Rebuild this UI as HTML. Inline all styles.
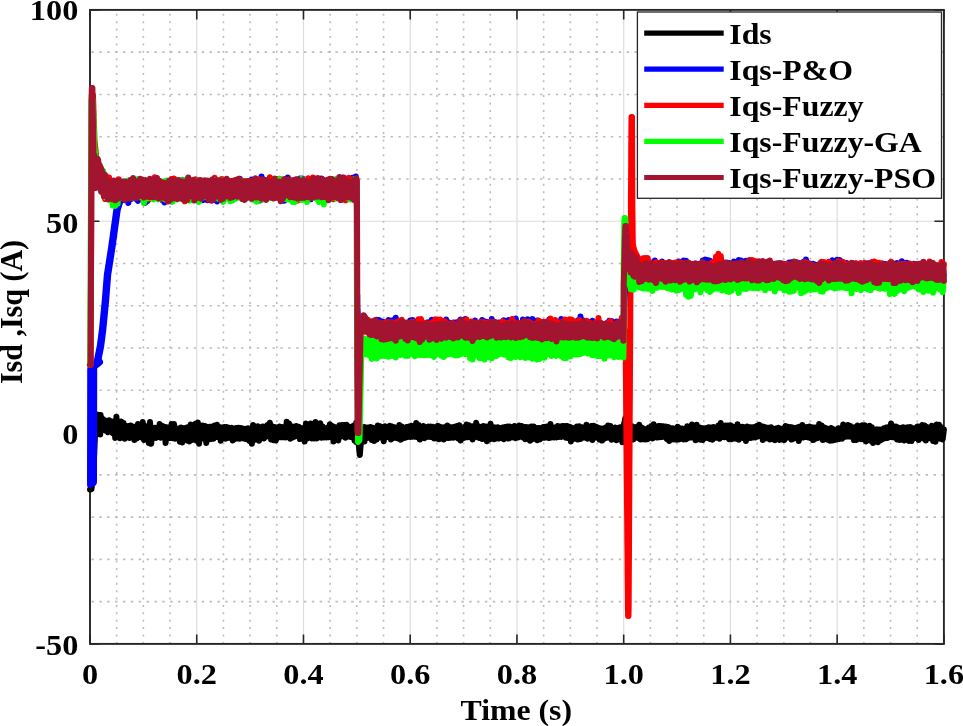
<!DOCTYPE html>
<html><head><meta charset="utf-8"><style>html,body{margin:0;padding:0;background:#fff;overflow:hidden}svg{display:block;filter:blur(0.45px)}</style></head>
<body>
<svg width="963" height="726" viewBox="0 0 963 726">
<rect width="963" height="726" fill="#fff"/>
<path d="M196.74 9.90V643.90M303.48 9.90V643.90M410.21 9.90V643.90M516.95 9.90V643.90M623.69 9.90V643.90M730.42 9.90V643.90M837.16 9.90V643.90M90.00 432.57H943.90M90.00 221.23H943.90" stroke="#dcdcdc" stroke-width="1.15" fill="none"/>
<path d="M116.68 643.90V9.90M143.37 643.90V9.90M170.05 643.90V9.90M223.42 643.90V9.90M250.11 643.90V9.90M276.79 643.90V9.90M330.16 643.90V9.90M356.84 643.90V9.90M383.53 643.90V9.90M436.90 643.90V9.90M463.58 643.90V9.90M490.27 643.90V9.90M543.63 643.90V9.90M570.32 643.90V9.90M597.00 643.90V9.90M650.37 643.90V9.90M677.06 643.90V9.90M703.74 643.90V9.90M757.11 643.90V9.90M783.79 643.90V9.90M810.48 643.90V9.90M863.85 643.90V9.90M890.53 643.90V9.90M917.22 643.90V9.90" stroke="#bcbcbc" stroke-width="1.6" stroke-dasharray="2 5.389" fill="none"/>
<path d="M90.00 601.63H943.90M90.00 559.37H943.90M90.00 517.10H943.90M90.00 474.83H943.90M90.00 390.30H943.90M90.00 348.03H943.90M90.00 305.77H943.90M90.00 263.50H943.90M90.00 178.97H943.90M90.00 136.70H943.90M90.00 94.43H943.90M90.00 52.17H943.90" stroke="#bcbcbc" stroke-width="1.6" stroke-dasharray="2.4 5.4694" stroke-dashoffset="6.3694" fill="none"/>
<rect x="90.00" y="9.90" width="853.90" height="634.00" fill="none" stroke="#262626" stroke-width="1.9"/>
<path d="M90.00 643.90v-9.5M90.00 9.90v9.5M196.74 643.90v-9.5M196.74 9.90v9.5M303.48 643.90v-9.5M303.48 9.90v9.5M410.21 643.90v-9.5M410.21 9.90v9.5M516.95 643.90v-9.5M516.95 9.90v9.5M623.69 643.90v-9.5M623.69 9.90v9.5M730.42 643.90v-9.5M730.42 9.90v9.5M837.16 643.90v-9.5M837.16 9.90v9.5M943.90 643.90v-9.5M943.90 9.90v9.5M90.00 643.90h9.5M943.90 643.90h-9.5M90.00 432.57h9.5M943.90 432.57h-9.5M90.00 221.23h9.5M943.90 221.23h-9.5M90.00 9.90h9.5M943.90 9.90h-9.5" stroke="#262626" stroke-width="1.6" fill="none"/>
<polyline points="90.0,489.6 90.1,489.6 90.3,489.5 90.4,489.4 90.6,489.4 90.7,489.3 90.9,489.3 91.0,489.2 91.2,489.1 91.3,489.1 91.5,489.0 91.6,487.6 91.8,486.2 91.9,484.7 92.1,483.3 92.2,481.9 92.4,480.5 92.5,479.0 92.7,477.6 92.8,476.2 93.0,474.8 93.1,473.3 93.3,471.9 93.4,470.5 93.6,467.7 93.7,464.3 93.9,460.9 94.0,457.4 94.2,454.0 94.3,450.5 94.5,447.1 94.6,443.6 94.8,440.2 94.9,436.7 95.1,433.5 95.2,429.2 95.4,427.2 95.5,421.8 95.7,425.3 95.8,421.6 96.0,426.0 96.1,420.5 96.3,426.5 96.4,420.2 96.6,427.3 96.7,419.3 96.9,428.1 97.0,414.6 97.2,428.6 97.3,415.1 97.5,427.7 97.6,418.2 97.8,431.0 97.9,419.3 98.1,430.9 98.2,420.4 98.4,431.4 98.5,420.1 98.7,430.4 98.8,419.6 99.0,429.3 99.1,418.3 99.3,430.9 99.4,418.5 99.6,430.9 99.7,419.0 99.9,433.5 100.0,417.7 100.2,434.5 100.3,417.4 100.5,430.2 100.6,415.0 100.8,430.7 102.0,418.1 103.2,429.4 104.4,420.1 105.6,430.7 106.8,421.4 108.0,432.2 109.2,420.2 110.4,431.7 111.6,421.5 112.8,433.1 114.0,421.5 115.2,438.1 116.4,416.8 117.6,435.5 118.8,423.4 120.0,438.2 121.2,421.4 122.4,435.3 123.6,422.9 124.8,438.7 126.0,425.8 127.2,435.5 128.4,426.1 129.6,438.0 130.8,425.6 132.0,436.3 133.2,426.8 134.4,439.9 135.6,426.5 136.8,438.6 138.0,424.1 139.2,437.1 140.4,427.5 141.6,437.6 142.8,422.1 144.0,439.9 145.2,426.1 146.4,438.7 147.6,428.0 148.8,443.1 150.0,422.0 151.2,443.8 152.4,428.0 153.6,438.2 154.8,427.7 156.0,437.9 157.2,427.7 158.4,437.1 159.6,424.0 160.8,437.7 162.0,425.8 163.2,436.7 164.4,426.8 165.6,443.1 166.8,427.2 168.0,437.4 169.2,427.6 170.4,438.1 171.6,424.1 172.8,438.2 174.0,424.1 175.2,438.7 176.3,428.2 177.5,438.5 178.7,428.6 179.9,441.7 181.1,427.6 182.3,442.6 183.5,428.3 184.7,438.2 185.9,427.8 187.1,440.4 188.3,427.1 189.5,441.4 190.7,424.6 191.9,440.1 193.1,428.7 194.3,438.6 195.5,423.7 196.7,440.8 197.9,422.5 199.1,443.7 200.3,427.1 201.5,438.8 202.7,425.6 203.9,438.0 205.1,425.9 206.3,443.0 207.5,426.9 208.7,439.4 209.9,426.8 211.1,438.9 212.3,426.6 213.5,438.7 214.7,425.6 215.9,437.1 217.1,424.7 218.3,437.2 219.5,427.0 220.7,440.7 221.9,427.5 223.1,437.9 224.3,427.1 225.5,438.7 226.7,427.1 227.9,438.1 229.1,427.8 230.3,437.8 231.5,427.8 232.7,440.4 233.9,428.5 235.1,438.9 236.3,427.9 237.5,438.6 238.7,427.7 239.9,438.7 241.1,427.9 242.3,438.2 243.5,428.8 244.7,438.8 245.9,428.7 247.1,439.2 248.3,428.2 249.5,441.0 250.7,429.1 251.9,443.8 253.1,425.0 254.3,440.1 255.5,426.4 256.7,439.1 257.9,426.3 259.1,440.8 260.3,427.6 261.5,436.9 262.7,426.4 263.9,438.5 265.1,426.6 266.3,436.7 267.5,425.0 268.7,436.3 269.9,422.7 271.1,439.5 272.3,426.3 273.5,440.2 274.7,426.9 275.9,440.6 277.1,427.5 278.3,437.2 279.5,426.6 280.7,437.2 281.9,426.9 283.1,437.2 284.3,427.0 285.5,437.5 286.7,421.7 287.9,436.3 289.1,423.6 290.3,438.8 291.5,426.2 292.7,437.6 293.9,426.8 295.1,436.4 296.3,425.9 297.5,436.0 298.7,426.7 299.9,439.1 301.1,427.9 302.3,438.5 303.5,428.9 304.7,441.6 305.9,423.5 307.1,438.6 308.3,425.7 309.5,437.5 310.7,423.6 311.9,438.5 313.1,427.7 314.3,438.5 315.5,422.1 316.7,438.5 317.9,428.4 319.1,437.4 320.3,423.3 321.5,437.8 322.7,426.5 323.9,437.4 325.1,428.2 326.3,437.6 327.5,427.5 328.7,437.3 329.9,424.2 331.1,437.3 332.3,426.1 333.5,441.5 334.7,426.9 335.9,437.5 337.1,428.2 338.3,440.4 339.5,425.2 340.7,436.7 341.9,425.1 343.1,436.2 344.3,424.9 345.5,437.8 346.6,424.7 347.8,436.6 349.0,426.6 350.2,437.0 351.4,426.7 352.6,437.4 353.8,425.5 354.2,437.7 354.3,428.2 354.5,440.5 354.6,428.3 354.8,439.3 354.9,427.8 355.0,437.5 355.1,427.5 355.2,437.3 355.4,427.3 355.5,438.0 355.7,427.9 355.8,438.6 356.0,428.5 356.1,442.1 356.2,422.8 356.3,439.0 356.4,428.6 356.6,441.1 356.7,428.1 356.9,438.8 357.0,427.9 357.2,437.3 357.3,425.0 357.4,437.3 357.5,427.7 357.6,439.5 357.8,425.0 357.9,436.3 358.1,437.9 358.2,439.4 358.4,440.9 358.5,442.5 358.6,443.7 358.7,444.0 358.8,445.5 359.0,447.0 359.1,448.6 359.3,450.1 359.4,451.6 359.6,453.2 359.7,454.7 359.8,455.0 359.9,454.6 360.0,452.7 360.2,450.8 360.3,448.9 360.5,447.0 360.6,445.1 360.8,443.2 360.9,441.3 361.0,439.8 361.1,439.4 361.2,437.5 361.4,435.6 361.5,434.0 361.7,433.9 361.8,433.9 362.0,433.8 362.1,433.4 362.2,434.3 362.3,432.8 362.4,434.9 362.6,431.4 362.7,434.9 362.9,430.8 363.0,435.8 363.2,429.9 363.3,436.7 363.4,427.9 363.5,438.2 363.6,429.1 363.8,437.0 363.9,428.4 364.1,440.1 364.2,426.9 364.4,441.6 364.5,427.9 364.6,438.1 364.7,427.4 364.8,438.4 365.8,427.4 367.0,438.2 368.2,427.5 369.4,437.9 370.6,426.9 371.8,439.9 373.0,427.8 374.2,440.9 375.4,428.5 376.6,439.6 377.8,425.5 379.0,437.5 380.2,426.2 381.4,437.7 382.6,427.5 383.8,441.2 385.0,426.2 386.2,437.4 387.4,426.9 388.6,437.1 389.8,425.7 391.0,439.4 392.2,426.6 393.4,437.9 394.6,427.3 395.8,437.9 397.0,428.1 398.2,438.6 399.4,425.0 400.6,439.7 401.8,426.6 403.0,438.4 404.2,427.7 405.4,437.8 406.6,427.1 407.8,436.9 409.0,426.4 410.2,436.9 411.4,425.7 412.6,436.8 413.8,427.3 415.0,436.8 416.2,423.0 417.4,437.3 418.6,424.9 419.8,439.6 421.0,427.3 422.2,437.6 423.4,426.1 424.6,438.2 425.8,427.3 427.0,437.0 428.2,426.6 429.4,436.8 430.6,426.4 431.8,437.1 433.0,426.8 434.2,438.4 435.4,427.6 436.6,438.4 437.8,425.7 439.0,439.3 440.2,426.7 441.4,437.3 442.6,427.4 443.8,439.4 445.0,427.1 446.2,437.8 447.4,425.6 448.6,438.1 449.8,427.0 451.0,437.8 452.2,427.3 453.4,437.8 454.6,426.8 455.8,437.3 457.0,426.1 458.2,438.5 459.4,425.3 460.6,440.4 461.8,427.9 463.0,438.5 464.2,427.0 465.4,437.4 466.6,424.5 467.8,437.2 469.0,425.3 470.2,437.3 471.4,426.5 472.6,439.4 473.8,426.1 475.0,436.3 476.2,422.8 477.4,437.2 478.6,426.3 479.8,438.1 481.0,427.6 482.2,438.9 483.4,425.9 484.6,438.7 485.8,426.5 487.0,441.3 488.2,426.6 489.4,439.4 490.6,423.8 491.8,438.7 493.0,426.9 494.2,439.3 495.4,427.6 496.6,438.3 497.8,427.2 499.0,438.6 500.2,427.9 501.4,437.9 502.6,427.4 503.8,439.2 505.0,426.9 506.2,437.5 507.4,426.4 508.6,438.6 509.8,426.4 511.0,437.4 512.2,427.6 513.4,437.6 514.6,426.1 515.8,438.2 517.0,427.6 518.1,437.4 519.3,425.5 520.5,436.6 521.7,426.1 522.9,437.4 524.1,427.0 525.3,439.2 526.5,426.9 527.7,437.8 528.9,427.3 530.1,440.8 531.3,426.6 532.5,439.3 533.7,426.5 534.9,438.6 536.1,427.9 537.3,440.2 538.5,428.0 539.7,439.4 540.9,427.9 542.1,438.0 543.3,426.9 544.5,437.8 545.7,426.7 546.9,437.4 548.1,426.3 549.3,438.1 550.5,424.0 551.7,437.5 552.9,427.6 554.1,437.6 555.3,427.2 556.5,437.4 557.7,426.0 558.9,437.0 560.1,426.6 561.3,437.0 562.5,425.9 563.7,436.6 564.9,426.1 566.1,437.7 567.3,426.0 568.5,438.1 569.7,426.8 570.9,441.4 572.1,427.7 573.3,439.1 574.5,428.1 575.7,438.8 576.9,426.6 578.1,439.6 579.3,426.3 580.5,438.9 581.7,427.2 582.9,437.8 584.1,427.2 585.3,437.7 586.5,424.8 587.7,438.7 588.9,427.5 590.1,437.7 591.3,425.9 592.5,440.0 593.7,425.8 594.9,437.7 596.1,426.7 597.3,437.7 598.5,427.8 599.7,439.6 600.9,428.4 602.1,440.6 603.3,428.5 604.5,438.7 605.7,427.4 606.9,437.7 608.1,425.4 609.3,437.8 610.5,425.9 611.7,439.8 612.9,427.9 614.1,438.5 615.3,427.5 616.5,440.3 617.7,428.0 618.9,439.3 620.1,427.3 621.0,438.0 621.2,427.5 621.3,438.1 621.3,426.9 621.5,438.5 621.6,427.8 621.8,437.6 621.9,427.3 622.1,438.3 622.2,428.2 622.4,442.2 622.5,428.1 622.5,439.3 622.7,427.3 622.8,442.1 623.0,427.3 623.1,438.8 623.3,426.2 623.4,438.6 623.6,428.0 623.7,439.6 623.7,427.6 623.9,439.3 624.0,423.8 624.2,436.3 624.3,423.8 624.5,435.4 624.6,421.6 624.8,432.4 624.9,419.5 624.9,432.2 625.1,420.5 625.2,432.1 625.4,418.0 625.5,431.4 625.7,419.8 625.8,430.5 626.0,417.5 626.1,429.7 626.1,418.3 626.3,431.8 626.4,419.5 626.6,430.5 626.7,419.4 626.9,430.7 627.0,420.8 627.2,431.8 627.3,421.1 627.3,431.7 627.5,421.3 627.6,432.6 627.8,421.4 627.9,433.9 628.1,422.4 628.2,434.4 628.4,423.2 628.5,436.2 628.5,423.7 628.7,435.1 628.8,425.1 629.0,435.8 629.7,424.7 630.9,439.5 632.1,426.3 633.3,439.5 634.5,427.3 635.7,437.0 636.9,426.8 638.1,437.9 639.3,424.7 640.5,439.4 641.7,427.5 642.9,439.2 644.1,428.8 645.3,439.5 646.5,428.9 647.7,439.2 648.9,427.6 650.1,437.5 651.3,426.0 652.5,438.4 653.7,424.3 654.9,436.8 656.1,426.7 657.3,437.6 658.5,426.1 659.7,437.3 660.9,426.1 662.1,437.0 663.3,426.3 664.5,436.9 665.7,426.4 666.9,438.9 668.1,427.1 669.3,441.0 670.5,428.0 671.7,439.5 672.9,428.2 674.1,439.4 675.3,429.1 676.5,439.8 677.7,426.7 678.9,439.5 680.1,428.3 681.3,438.8 682.5,428.6 683.7,439.4 684.9,428.8 686.1,439.2 687.3,426.3 688.4,438.0 689.6,426.9 690.8,437.5 692.0,424.6 693.2,437.6 694.4,427.3 695.6,440.3 696.8,424.8 698.0,438.9 699.2,427.3 700.4,439.7 701.6,428.0 702.8,439.9 704.0,428.3 705.2,438.1 706.4,427.9 707.6,438.1 708.8,427.2 710.0,439.0 711.2,427.5 712.4,439.8 713.6,427.0 714.8,437.9 716.0,427.6 717.2,437.8 718.4,425.5 719.6,438.8 720.8,423.0 722.0,437.1 723.2,425.9 724.4,437.3 725.6,425.4 726.8,437.3 728.0,425.4 729.2,439.3 730.4,425.2 731.6,439.3 732.8,426.6 734.0,438.4 735.2,427.6 736.4,438.8 737.6,424.2 738.8,439.7 740.0,426.8 741.2,437.3 742.4,426.7 743.6,438.2 744.8,427.3 746.0,441.1 747.2,426.6 748.4,436.8 749.6,427.2 750.8,438.1 752.0,427.2 753.2,437.6 754.4,426.9 755.6,437.5 756.8,426.0 758.0,436.5 759.2,424.8 760.4,436.1 761.6,426.2 762.8,440.0 764.0,426.8 765.2,438.4 766.4,427.5 767.6,438.2 768.8,427.7 770.0,439.4 771.2,427.3 772.4,439.1 773.6,428.9 774.8,440.3 776.0,428.6 777.2,439.1 778.4,427.7 779.6,439.9 780.8,429.0 782.0,439.4 783.2,428.2 784.4,440.1 785.6,425.9 786.8,437.8 788.0,426.7 789.2,437.5 790.4,427.0 791.6,439.6 792.8,427.6 794.0,438.6 795.2,428.0 796.4,438.1 797.6,427.3 798.8,440.9 800.0,426.5 801.2,437.6 802.4,425.0 803.6,437.4 804.8,427.1 806.0,437.1 807.2,426.9 808.4,437.5 809.6,426.6 810.8,438.3 812.0,427.3 813.2,440.1 814.4,427.5 815.6,438.7 816.8,427.2 818.0,438.0 819.2,424.1 820.4,436.8 821.6,425.4 822.8,440.1 824.0,427.3 825.2,438.4 826.4,428.2 827.6,439.7 828.8,429.3 830.0,440.8 831.2,428.0 832.4,440.6 833.6,429.2 834.8,439.9 836.0,429.7 837.2,439.5 838.4,428.3 839.6,438.9 840.8,428.1 842.0,438.8 843.2,424.5 844.4,437.1 845.6,426.0 846.8,436.5 848.0,424.9 849.2,436.6 850.4,425.9 851.6,436.8 852.8,427.7 854.0,440.1 855.2,427.1 856.4,440.0 857.6,425.5 858.7,438.1 859.9,426.6 861.1,439.3 862.3,425.2 863.5,439.2 864.7,425.2 865.9,441.4 867.1,426.7 868.3,438.2 869.5,425.8 870.7,440.7 871.9,427.3 873.1,442.9 874.3,429.4 875.5,440.8 876.7,429.3 877.9,442.3 879.1,429.4 880.3,440.6 881.5,429.5 882.7,439.2 883.9,428.3 885.1,438.3 886.3,427.6 887.5,438.1 888.7,427.1 889.9,437.1 891.1,423.5 892.3,437.3 893.5,426.3 894.7,437.4 895.9,426.6 897.1,439.5 898.3,427.6 899.5,439.9 900.7,428.0 901.9,439.7 903.1,427.3 904.3,440.4 905.5,427.8 906.7,438.9 907.9,427.3 909.1,440.9 910.3,427.0 911.5,441.1 912.7,428.3 913.9,438.6 915.1,428.1 916.3,437.3 917.5,426.4 918.7,440.1 919.9,426.4 921.1,437.9 922.3,425.0 923.5,438.4 924.7,425.6 925.9,440.6 927.1,427.0 928.3,437.8 929.5,427.4 930.7,438.3 931.9,425.8 933.1,441.0 934.3,427.4 935.5,441.8 936.7,424.6 937.9,438.3 939.1,424.7 940.3,438.8 941.5,427.3 942.7,439.4 943.9,429.5" fill="none" stroke="#000000" stroke-width="6.0" stroke-linejoin="round" stroke-linecap="round"/>
<polyline points="90.0,485.0 90.1,484.3 90.3,483.6 90.4,482.9 90.6,482.2 90.7,481.5 90.9,480.8 91.0,480.1 91.2,479.4 91.3,478.7 91.5,478.0 91.6,448.8 91.8,419.4 91.9,390.0 92.1,378.6 92.2,376.5 92.4,374.4 92.5,372.3 92.7,370.2 92.8,368.1 93.0,366.0 93.1,365.8 93.3,365.7 93.4,365.5 93.6,365.3 93.7,365.2 93.9,365.0 94.0,364.8 94.2,364.7 94.3,364.5 94.5,364.3 94.6,364.2 94.8,364.0 94.9,363.8 95.1,363.7 95.2,363.5 95.4,363.3 95.5,363.2 95.7,363.0 95.8,362.8 96.0,362.7 96.1,362.5 96.3,362.3 96.4,362.2 96.6,362.0 96.7,361.8 96.9,361.7 97.0,361.5 97.2,361.3 97.3,361.2 97.5,361.0 97.6,360.3 97.8,359.5 97.9,358.8 98.1,358.0 98.2,357.3 98.4,356.5 98.5,355.8 98.7,355.0 98.8,354.3 99.0,353.5 99.1,352.8 99.3,352.0 99.4,351.3 99.6,350.5 99.7,349.8 99.9,349.0 100.0,348.3 100.2,347.5 100.3,346.8 100.5,346.0 100.6,344.9 100.8,343.8 100.9,342.6 101.1,341.5 101.2,340.3 101.4,339.2 101.5,338.1 101.7,336.9 101.8,335.8 102.0,334.6 102.1,333.5 102.3,332.3 102.4,331.2 102.6,330.1 102.7,328.5 102.9,327.0 103.0,325.4 103.2,323.9 103.3,322.3 103.5,320.8 103.6,319.2 103.8,317.7 103.9,316.1 104.1,314.6 104.2,313.0 104.4,311.5 104.5,309.9 104.7,308.4 104.8,306.8 105.0,305.3 105.1,303.7 105.3,302.2 105.4,300.6 105.6,298.9 105.7,297.0 105.9,295.1 106.0,293.2 106.2,291.4 106.3,289.5 106.5,287.6 106.6,285.7 106.8,283.9 106.9,282.0 107.1,280.1 107.2,278.3 107.4,276.4 107.5,274.7 107.7,273.8 107.8,272.8 108.0,271.8 108.1,270.9 108.3,269.9 108.4,268.9 108.6,268.0 108.7,267.0 108.9,266.0 109.0,265.1 109.2,264.1 109.3,263.2 109.5,262.2 109.6,261.2 109.8,260.3 109.9,259.3 110.1,258.3 110.2,257.4 110.4,256.4 110.5,255.4 110.7,254.5 110.8,253.5 111.0,252.5 111.1,251.6 111.3,250.6 111.4,249.6 111.6,248.7 111.7,247.7 111.9,246.7 112.0,245.7 112.2,244.7 112.3,243.6 112.5,242.5 112.6,241.4 112.8,240.3 112.9,239.3 113.1,238.2 113.2,237.1 113.4,236.0 113.5,234.9 113.7,233.9 113.8,232.8 114.0,231.7 114.1,230.6 114.3,229.5 114.4,228.5 114.6,227.4 114.7,226.3 114.9,225.2 115.0,224.1 115.2,223.1 115.3,222.0 115.5,220.9 115.6,219.8 115.8,218.7 115.9,217.7 116.1,216.6 116.2,215.5 116.4,214.4 116.5,213.4 116.7,212.3 116.8,211.2 117.0,210.1 117.1,209.6 117.3,209.1 117.4,208.7 117.6,208.2 117.7,207.8 117.9,207.3 118.0,206.9 118.2,206.4 118.3,206.0 118.5,205.6 118.6,205.1 118.8,204.7 118.9,204.2 119.1,203.8 119.2,203.3 119.4,202.9 119.5,202.4 119.7,202.0 119.8,201.5 120.0,201.1 120.1,200.6 120.3,200.2 120.4,199.7 120.6,199.3 120.7,198.8 120.9,198.4 121.0,197.8 121.2,197.9 121.3,196.4 121.5,197.6 121.6,194.9 121.8,198.3 121.9,192.7 122.1,198.0 122.2,192.1 122.4,198.3 122.5,191.5 122.7,199.9 122.8,187.6 123.0,198.1 123.1,188.7 123.3,198.4 123.4,187.3 123.6,198.5 123.7,186.3 123.9,197.4 124.0,183.3 124.2,198.1 124.3,184.6 124.5,200.2 124.6,184.3 124.8,196.6 124.9,181.9 125.1,197.0 125.2,182.3 125.4,197.3 125.5,183.9 125.7,198.1 125.8,183.4 126.0,198.5 126.1,182.6 126.3,199.0 126.4,185.0 126.6,199.1 126.7,181.3 126.9,198.4 127.0,184.5 127.2,199.1 127.3,184.8 128.4,203.0 129.6,184.0 130.8,199.2 132.0,183.6 133.2,197.4 134.4,181.9 135.6,198.9 136.8,183.4 138.0,200.9 139.2,184.4 140.4,197.4 141.6,183.0 142.8,198.0 144.0,184.2 145.2,203.1 146.4,185.8 147.6,201.0 148.8,184.6 150.0,197.8 151.2,183.4 152.4,196.3 153.6,182.9 154.8,195.6 156.0,182.0 157.2,197.3 158.4,180.5 159.6,197.3 160.8,182.5 162.0,199.8 163.2,183.8 164.4,202.4 165.6,184.3 166.8,199.8 168.0,185.3 169.2,200.4 170.4,185.1 171.6,201.5 172.8,183.8 174.0,199.2 175.2,180.6 176.3,195.3 177.5,180.6 178.7,196.9 179.9,181.9 181.1,195.9 182.3,180.0 183.5,196.3 184.7,182.4 185.9,198.6 187.1,183.1 188.3,198.0 189.5,183.6 190.7,197.6 191.9,182.9 193.1,196.2 194.3,182.0 195.5,196.1 196.7,181.5 197.9,196.3 199.1,183.3 200.3,199.9 201.5,184.5 202.7,200.2 203.9,182.8 205.1,198.2 206.3,184.0 207.5,200.3 208.7,183.1 209.9,197.6 211.1,182.9 212.3,200.4 213.5,184.5 214.7,199.0 215.9,183.1 217.1,201.4 218.3,182.9 219.5,198.4 220.7,183.3 221.9,198.8 223.1,184.4 224.3,198.6 225.5,182.5 226.7,198.0 227.9,180.2 229.1,196.6 230.3,183.4 231.5,199.6 232.7,182.7 233.9,197.0 235.1,182.5 236.3,197.7 237.5,183.4 238.7,195.7 239.9,178.8 241.1,196.5 242.3,183.2 243.5,197.3 244.7,184.2 245.9,198.4 247.1,184.3 248.3,196.7 249.5,182.6 250.7,194.9 251.9,179.6 253.1,195.3 254.3,182.2 255.5,196.2 256.7,182.1 257.9,196.6 259.1,182.4 260.3,200.4 261.5,176.4 262.7,196.0 263.9,179.6 265.1,192.9 266.3,180.4 267.5,195.3 268.7,181.1 269.9,195.5 271.1,181.8 272.3,196.9 273.5,182.0 274.7,196.5 275.9,181.7 277.1,196.8 278.3,180.5 279.5,195.9 280.7,180.2 281.9,195.2 283.1,181.5 284.3,200.7 285.5,181.9 286.7,197.7 287.9,177.6 289.1,195.8 290.3,180.3 291.5,195.7 292.7,182.2 293.9,197.9 295.1,182.4 296.3,197.7 297.5,181.0 298.7,194.6 299.9,178.4 301.1,194.0 302.3,178.4 303.5,196.4 304.7,179.5 305.9,196.9 307.1,180.4 308.3,194.4 309.5,179.8 310.7,199.2 311.9,179.9 313.1,195.1 314.3,182.6 315.5,196.9 316.7,183.0 317.9,197.4 319.1,181.4 320.3,197.8 321.5,178.5 322.7,198.6 323.9,181.2 325.1,196.3 326.3,182.3 327.5,197.1 328.7,181.1 329.9,195.4 331.1,182.2 332.3,194.5 333.5,180.4 334.7,194.9 335.9,180.6 337.1,197.5 338.3,181.0 339.5,194.8 340.7,178.0 341.9,199.3 343.1,177.4 344.3,196.2 345.5,182.7 346.6,198.1 347.8,182.5 349.0,198.2 350.2,182.2 351.4,199.3 352.6,177.8 353.8,195.2 354.2,178.8 354.3,194.7 354.5,180.7 354.6,195.9 354.8,180.3 354.9,194.1 355.0,179.9 355.1,193.7 355.2,179.7 355.4,193.4 355.5,177.9 355.7,193.1 355.8,176.4 356.0,194.1 356.1,179.9 356.2,194.9 356.3,181.9 356.4,197.2 356.6,182.6 356.7,195.1 356.9,200.7 357.0,306.5 357.2,295.1 357.3,312.1 357.4,308.9 357.5,309.5 357.6,312.5 357.8,315.5 357.9,318.5 358.1,321.5 358.2,324.5 358.4,327.5 358.5,329.9 358.6,329.5 358.7,329.4 358.8,328.8 359.0,328.3 359.1,327.8 359.3,327.2 359.4,326.7 359.6,326.1 359.7,325.6 359.8,325.2 359.9,325.1 360.0,324.5 360.2,324.0 360.3,323.4 360.5,322.9 360.6,322.4 360.8,321.8 360.9,321.3 361.0,321.0 361.1,321.0 361.2,321.1 361.4,321.1 361.5,321.1 361.7,321.2 361.8,321.2 362.0,321.2 362.1,321.5 362.2,320.9 362.3,321.9 362.4,320.6 362.6,322.5 362.7,320.2 362.9,322.9 363.0,319.4 363.2,323.5 363.3,318.4 363.4,323.8 363.5,319.1 363.6,324.5 363.8,318.1 363.9,325.5 364.1,316.8 364.2,326.4 364.4,317.9 364.5,329.0 364.6,317.3 364.7,329.7 364.8,317.9 365.8,328.6 367.0,319.6 368.2,331.8 369.4,321.6 370.6,336.4 371.8,323.9 373.0,333.5 374.2,322.5 375.4,336.3 376.6,319.7 377.8,334.7 379.0,319.9 380.2,334.0 381.4,321.2 382.6,334.3 383.8,321.9 385.0,335.5 386.2,322.4 387.4,332.6 388.6,319.9 389.8,332.2 391.0,321.2 392.2,334.1 393.4,320.1 394.6,332.6 395.8,317.8 397.0,332.7 398.2,321.9 399.4,333.3 400.6,323.0 401.8,333.7 403.0,323.3 404.2,336.7 405.4,323.6 406.6,334.9 407.8,322.9 409.0,332.9 410.2,320.5 411.4,332.3 412.6,319.9 413.8,332.3 415.0,321.6 416.2,333.2 417.4,323.0 418.6,335.7 419.8,324.4 421.0,339.4 422.2,324.2 423.4,335.8 424.6,323.2 425.8,333.3 427.0,322.5 428.2,332.7 429.4,322.1 430.6,333.0 431.8,319.8 433.0,333.8 434.2,323.7 435.4,335.1 436.6,322.2 437.8,332.5 439.0,321.1 440.2,332.6 441.4,320.9 442.6,333.9 443.8,323.3 445.0,335.5 446.2,319.4 447.4,335.8 448.6,322.3 449.8,334.5 451.0,323.3 452.2,334.0 453.4,322.4 454.6,335.8 455.8,322.6 457.0,333.7 458.2,322.1 459.4,335.3 460.6,319.4 461.8,333.0 463.0,320.4 464.2,336.0 465.4,319.0 466.6,334.7 467.8,321.9 469.0,333.8 470.2,322.7 471.4,333.3 472.6,323.1 473.8,333.6 475.0,320.4 476.2,333.8 477.4,322.5 478.6,336.0 479.8,323.3 481.0,334.4 482.2,319.9 483.4,333.0 484.6,321.2 485.8,332.9 487.0,321.9 488.2,333.1 489.4,322.6 490.6,336.3 491.8,318.9 493.0,335.9 494.2,324.0 495.4,338.5 496.6,323.4 497.8,334.0 499.0,322.4 500.2,335.6 501.4,322.5 502.6,332.2 503.8,320.3 505.0,332.9 506.2,321.7 507.4,333.8 508.6,320.1 509.8,333.9 511.0,321.4 512.2,331.1 513.4,320.1 514.6,331.4 515.8,318.6 517.0,332.9 518.1,323.7 519.3,336.7 520.5,323.9 521.7,336.5 522.9,319.4 524.1,332.9 525.3,322.9 526.5,336.6 527.7,319.2 528.9,337.2 530.1,321.9 531.3,333.4 532.5,319.0 533.7,335.8 534.9,322.6 536.1,334.2 537.3,320.4 538.5,335.9 539.7,322.7 540.9,338.7 542.1,323.0 543.3,336.5 544.5,322.4 545.7,335.7 546.9,322.0 548.1,332.4 549.3,319.5 550.5,334.2 551.7,323.8 552.9,335.4 554.1,324.5 555.3,336.9 556.5,323.8 557.7,336.1 558.9,322.2 560.1,333.0 561.3,319.1 562.5,332.8 563.7,321.0 564.9,333.9 566.1,322.8 567.3,334.7 568.5,323.6 569.7,334.9 570.9,324.1 572.1,336.4 573.3,324.2 574.5,334.6 575.7,322.8 576.9,334.2 578.1,320.2 579.3,332.1 580.5,316.5 581.7,332.0 582.9,320.3 584.1,336.1 585.3,321.7 586.5,333.7 587.7,321.8 588.9,334.5 590.1,322.0 591.3,335.9 592.5,320.7 593.7,338.0 594.9,324.8 596.1,335.1 597.3,324.7 598.5,335.3 599.7,323.9 600.9,334.6 602.1,324.1 603.3,335.0 604.5,324.1 605.7,334.4 606.9,323.1 608.1,333.3 609.3,320.8 610.5,334.2 611.7,321.0 612.9,334.6 614.1,323.6 615.3,335.0 616.5,321.4 617.7,334.0 618.9,323.1 620.1,334.2 621.0,323.9 621.2,336.6 621.3,323.7 621.3,334.6 621.5,320.7 621.6,334.9 621.8,318.9 621.9,333.2 622.1,317.6 622.2,332.9 622.4,318.7 622.5,336.0 622.5,319.9 622.7,335.9 622.8,325.6 623.0,337.6 623.1,324.0 623.3,334.4 623.4,322.4 623.6,333.2 623.7,321.9 623.7,331.8 623.9,311.3 624.0,322.8 624.2,299.8 624.3,306.4 624.5,301.2 624.6,298.5 624.8,296.6 624.9,295.0 624.9,294.7 625.1,292.7 625.2,290.8 625.4,288.9 625.5,287.0 625.7,285.1 625.8,283.2 626.0,281.2 626.1,279.7 626.1,279.3 626.3,277.4 626.4,275.5 626.6,273.6 626.7,271.6 626.9,269.7 627.0,268.0 627.2,268.0 627.3,268.0 627.3,268.0 627.5,268.1 627.6,268.1 627.8,268.1 627.9,268.1 628.1,268.3 628.2,267.8 628.4,269.0 628.5,267.1 628.5,269.0 628.7,266.1 628.8,269.4 629.0,265.6 629.1,270.9 629.3,263.5 629.4,270.9 629.6,264.1 629.7,270.7 629.7,264.9 629.9,271.2 630.0,265.3 630.2,272.3 630.3,263.7 630.5,273.3 630.6,262.1 630.8,273.6 630.9,264.0 630.9,273.6 631.1,263.3 631.2,274.0 631.4,259.2 631.5,274.0 631.7,260.7 631.8,274.0 632.0,261.6 632.1,274.1 632.1,261.6 632.3,272.6 632.4,262.0 632.6,274.9 632.7,263.2 632.9,275.3 633.0,264.4 633.2,277.6 633.3,262.9 633.3,276.1 633.5,264.0 633.6,274.9 633.8,262.8 633.9,274.1 634.1,263.8 634.2,274.2 634.4,260.3 634.5,275.3 635.7,262.2 636.9,277.0 638.1,264.8 639.3,275.8 640.5,265.5 641.7,279.3 642.9,266.4 644.1,277.6 645.3,265.1 646.5,276.8 647.7,264.0 648.9,275.1 650.1,263.0 651.3,275.2 652.5,262.6 653.7,276.6 654.9,260.4 656.1,275.6 657.3,264.0 658.5,275.1 659.7,264.9 660.9,277.9 662.1,261.6 663.3,275.8 664.5,265.1 665.7,276.0 666.9,264.9 668.1,275.3 669.3,264.9 670.5,275.4 671.7,264.6 672.9,275.0 674.1,263.3 675.3,275.9 676.5,262.8 677.7,273.3 678.9,261.4 680.1,272.7 681.3,262.6 682.5,273.9 683.7,260.6 684.9,275.5 686.1,260.7 687.3,277.0 688.4,265.0 689.6,275.8 690.8,263.9 692.0,277.5 693.2,264.0 694.4,274.7 695.6,264.5 696.8,276.0 698.0,264.5 699.2,279.1 700.4,263.5 701.6,273.7 702.8,260.5 704.0,273.6 705.2,259.6 706.4,274.3 707.6,260.0 708.8,273.3 710.0,260.7 711.2,273.5 712.4,262.4 713.6,275.1 714.8,263.8 716.0,274.9 717.2,261.7 718.4,275.8 719.6,262.6 720.8,276.7 722.0,264.7 723.2,274.2 724.4,263.1 725.6,274.6 726.8,262.4 728.0,274.7 729.2,263.1 730.4,276.9 731.6,264.7 732.8,276.1 734.0,261.5 735.2,276.3 736.4,262.7 737.6,274.4 738.8,260.1 740.0,275.2 741.2,260.6 742.4,274.7 743.6,263.0 744.8,275.1 746.0,260.7 747.2,274.9 748.4,263.9 749.6,274.4 750.8,260.8 752.0,277.0 753.2,264.1 754.4,275.7 755.6,264.8 756.8,275.7 758.0,264.5 759.2,275.5 760.4,264.6 761.6,279.6 762.8,265.8 764.0,277.3 765.2,266.6 766.4,277.6 767.6,266.9 768.8,279.1 770.0,265.1 771.2,277.6 772.4,266.7 773.6,277.1 774.8,265.3 776.0,275.6 777.2,263.9 778.4,275.3 779.6,263.3 780.8,275.8 782.0,265.1 783.2,275.1 784.4,264.3 785.6,276.8 786.8,264.1 788.0,278.1 789.2,262.4 790.4,274.9 791.6,262.2 792.8,278.2 794.0,262.6 795.2,274.1 796.4,262.9 797.6,274.0 798.8,263.0 800.0,275.7 801.2,263.7 802.4,278.0 803.6,261.7 804.8,274.2 806.0,259.4 807.2,275.0 808.4,262.9 809.6,274.1 810.8,263.7 812.0,275.1 813.2,263.7 814.4,275.6 815.6,264.7 816.8,276.1 818.0,265.5 819.2,278.3 820.4,263.0 821.6,277.5 822.8,266.1 824.0,276.6 825.2,266.0 826.4,276.8 827.6,264.1 828.8,276.8 830.0,261.8 831.2,274.9 832.4,260.3 833.6,275.0 834.8,263.2 836.0,274.5 837.2,259.8 838.4,273.8 839.6,260.0 840.8,275.7 842.0,261.4 843.2,276.1 844.4,264.6 845.6,276.7 846.8,263.1 848.0,274.9 849.2,264.0 850.4,274.8 851.6,263.9 852.8,275.1 854.0,264.3 855.2,275.2 856.4,263.4 857.6,276.0 858.7,265.5 859.9,277.3 861.1,263.2 862.3,276.1 863.5,265.2 864.7,277.7 865.9,264.1 867.1,274.4 868.3,263.2 869.5,273.4 870.7,263.0 871.9,278.1 873.1,264.2 874.3,275.1 875.5,262.9 876.7,275.9 877.9,264.3 879.1,276.0 880.3,264.4 881.5,274.8 882.7,263.5 883.9,274.8 885.1,263.9 886.3,278.6 887.5,264.5 888.7,275.6 889.9,264.2 891.1,275.1 892.3,263.0 893.5,275.4 894.7,265.7 895.9,276.7 897.1,263.0 898.3,277.6 899.5,264.2 900.7,276.0 901.9,261.3 903.1,276.0 904.3,263.7 905.5,275.5 906.7,262.8 907.9,275.1 909.1,263.4 910.3,275.3 911.5,265.1 912.7,275.7 913.9,263.7 915.1,276.4 916.3,265.7 917.5,276.2 918.7,264.3 919.9,277.4 921.1,266.8 922.3,277.7 923.5,263.8 924.7,277.0 925.9,265.0 927.1,275.9 928.3,263.4 929.5,276.0 930.7,265.4 931.9,277.9 933.1,265.9 934.3,276.9 935.5,266.2 936.7,276.8 937.9,266.6 939.1,277.9 940.3,266.5 941.5,276.3 942.7,265.2 943.9,276.5" fill="none" stroke="#0000ff" stroke-width="6.0" stroke-linejoin="round" stroke-linecap="round"/>
<path d="M92 482L92.2 369" stroke="#0000ff" stroke-width="10" stroke-linecap="round"/>
<path d="M94 366L99 362" stroke="#0000ff" stroke-width="8" stroke-linecap="round"/>
<polyline points="97.5,361 100.5,346 102.6,330 105.5,300 107.5,275 112,246 117,210 120,200" fill="none" stroke="#0000ff" stroke-width="7.4" stroke-linejoin="round" stroke-linecap="round"/>
<polyline points="90.0,364.9 90.1,365.0 90.3,365.0 90.4,365.0 90.6,365.0 90.7,352.8 90.9,316.0 91.0,279.2 91.2,242.4 91.3,205.6 91.5,168.9 91.6,132.1 91.8,95.3 91.9,95.0 92.1,95.0 92.2,95.0 92.4,95.0 92.5,95.0 92.7,95.0 92.8,95.0 93.0,95.0 93.1,99.4 93.3,103.9 93.4,108.4 93.6,112.9 93.7,117.4 93.9,121.9 94.0,126.4 94.2,130.9 94.3,135.4 94.5,139.9 94.6,141.5 94.8,143.0 94.9,144.5 95.1,146.0 95.2,147.5 95.4,149.0 95.5,150.5 95.7,152.0 95.8,153.5 96.0,155.0 96.1,156.5 96.3,158.0 96.4,159.5 96.6,160.3 96.7,160.8 96.9,161.4 97.0,161.9 97.2,162.4 97.3,162.9 97.5,163.4 97.6,163.9 97.8,164.4 97.9,165.0 98.1,165.5 98.2,166.0 98.4,166.5 98.5,167.0 98.7,167.5 98.8,168.0 99.0,168.6 99.1,169.1 99.3,169.6 99.4,170.1 99.6,170.6 99.7,171.1 99.9,171.6 100.0,172.0 100.2,173.0 100.3,172.2 100.5,174.6 100.6,172.3 100.8,176.3 100.9,172.6 101.1,178.2 101.2,173.4 101.4,180.9 101.5,173.0 101.7,183.9 101.8,175.1 102.0,185.5 102.1,176.0 102.3,186.6 102.4,175.9 102.6,188.6 102.7,177.1 102.9,189.1 103.0,176.2 103.2,192.1 103.3,176.6 103.5,191.6 103.6,176.6 103.8,192.4 103.9,178.3 104.1,194.0 104.2,180.9 104.4,194.8 104.5,178.9 104.7,197.7 104.8,180.7 105.0,198.8 105.1,179.8 105.3,199.1 105.4,177.8 105.6,196.4 105.7,180.9 105.9,196.6 106.8,176.9 108.0,194.7 109.2,177.5 110.4,197.4 111.6,182.1 112.8,195.6 114.0,181.0 115.2,195.0 116.4,181.1 117.6,196.2 118.8,179.2 120.0,196.6 121.2,182.8 122.4,197.2 123.6,183.5 124.8,197.8 126.0,183.1 127.2,195.3 128.4,181.4 129.6,194.4 130.8,180.7 132.0,195.6 133.2,182.2 134.4,196.2 135.6,182.7 136.8,196.3 138.0,180.4 139.2,197.1 140.4,180.4 141.6,198.2 142.8,183.8 144.0,197.4 145.2,181.6 146.4,199.2 147.6,181.8 148.8,199.5 150.0,182.3 151.2,196.1 152.4,182.6 153.6,197.9 154.8,177.3 156.0,195.6 157.2,181.4 158.4,196.1 159.6,182.8 160.8,197.2 162.0,184.2 163.2,199.3 164.4,183.2 165.6,197.9 166.8,183.1 168.0,199.5 169.2,183.0 170.4,196.3 171.6,178.9 172.8,194.9 174.0,178.5 175.2,198.3 176.3,182.5 177.5,198.5 178.7,180.2 179.9,197.5 181.1,182.4 182.3,199.0 183.5,182.1 184.7,201.3 185.9,180.9 187.1,196.5 188.3,179.9 189.5,196.3 190.7,182.1 191.9,197.1 193.1,182.0 194.3,195.4 195.5,179.3 196.7,196.6 197.9,180.5 199.1,194.0 200.3,180.5 201.5,195.5 202.7,181.9 203.9,196.5 205.1,183.2 206.3,197.4 207.5,182.6 208.7,198.4 209.9,182.2 211.1,195.6 212.3,181.4 213.5,196.0 214.7,177.8 215.9,195.3 217.1,181.1 218.3,195.2 219.5,182.6 220.7,196.7 221.9,179.1 223.1,195.9 224.3,181.1 225.5,196.0 226.7,182.0 227.9,198.5 229.1,181.0 230.3,195.0 231.5,181.0 232.7,195.9 233.9,181.1 235.1,196.5 236.3,180.0 237.5,195.2 238.7,180.9 239.9,195.5 241.1,180.3 242.3,196.1 243.5,182.4 244.7,195.5 245.9,180.9 247.1,196.4 248.3,181.4 249.5,195.3 250.7,180.9 251.9,196.2 253.1,182.5 254.3,195.5 255.5,182.1 256.7,196.2 257.9,179.5 259.1,195.9 260.3,179.5 261.5,199.5 262.7,181.5 263.9,195.3 265.1,181.8 266.3,195.5 267.5,180.4 268.7,197.2 269.9,177.2 271.1,196.3 272.3,183.1 273.5,197.0 274.7,183.0 275.9,197.0 277.1,179.1 278.3,195.7 279.5,178.8 280.7,197.5 281.9,184.0 283.1,198.1 284.3,181.6 285.5,198.7 286.7,183.5 287.9,195.9 289.1,180.9 290.3,194.7 291.5,181.1 292.7,195.5 293.9,181.7 295.1,197.5 296.3,179.2 297.5,200.8 298.7,182.7 299.9,196.3 301.1,183.3 302.3,196.8 303.5,180.9 304.7,198.5 305.9,182.1 307.1,196.0 308.3,178.2 309.5,196.9 310.7,180.6 311.9,198.0 313.1,177.4 314.3,196.8 315.5,181.7 316.7,197.6 317.9,181.1 319.1,195.3 320.3,181.6 321.5,195.4 322.7,179.3 323.9,197.2 325.1,181.6 326.3,196.1 327.5,182.3 328.7,197.2 329.9,182.6 331.1,198.2 332.3,183.1 333.5,199.2 334.7,182.7 335.9,197.3 337.1,183.3 338.3,197.0 339.5,183.0 340.7,197.8 341.9,182.2 343.1,199.4 344.3,181.7 345.5,200.3 346.6,180.3 347.8,196.0 349.0,177.7 350.2,194.9 351.4,182.0 352.6,196.7 353.8,180.4 354.2,197.0 354.3,180.8 354.5,196.3 354.6,181.8 354.8,194.9 354.9,181.2 355.0,199.6 355.1,180.3 355.2,197.2 355.4,182.4 355.5,195.7 355.7,180.2 355.8,197.4 356.0,182.0 356.1,195.5 356.2,178.4 356.3,194.9 356.4,180.1 356.6,195.1 356.7,181.1 356.9,210.4 357.0,303.1 357.2,322.6 357.3,342.1 357.4,357.6 357.5,361.5 357.6,381.0 357.8,400.5 357.9,420.0 358.1,427.1 358.2,421.0 358.4,414.9 358.5,408.9 358.6,404.0 358.7,402.8 358.8,396.8 359.0,390.7 359.1,384.7 359.3,378.6 359.4,372.6 359.6,366.5 359.7,360.5 359.8,355.6 359.9,354.4 360.0,348.3 360.2,342.3 360.3,336.2 360.5,330.2 360.6,325.0 360.8,325.0 360.9,325.0 361.0,325.0 361.1,325.0 361.2,325.0 361.4,325.0 361.5,325.0 361.7,325.0 361.8,325.0 362.0,325.0 362.1,324.8 362.2,325.3 362.3,324.4 362.4,325.9 362.6,323.4 362.7,326.2 362.9,322.6 363.0,326.6 363.2,322.3 363.3,327.7 363.4,323.1 363.5,328.4 363.6,323.3 363.8,329.9 363.9,322.2 364.1,331.0 364.2,321.0 364.4,330.3 364.5,317.7 364.6,329.5 364.7,320.6 364.8,331.8 365.8,319.9 367.0,331.8 368.2,320.0 369.4,332.3 370.6,322.3 371.8,335.2 373.0,322.6 374.2,337.7 375.4,323.7 376.6,336.4 377.8,323.6 379.0,334.6 380.2,322.4 381.4,333.4 382.6,323.1 383.8,333.3 385.0,322.6 386.2,333.7 387.4,322.0 388.6,333.8 389.8,323.0 391.0,333.8 392.2,322.2 393.4,334.2 394.6,323.0 395.8,334.9 397.0,321.9 398.2,334.5 399.4,320.8 400.6,331.8 401.8,319.7 403.0,333.1 404.2,322.8 405.4,334.6 406.6,323.6 407.8,334.8 409.0,323.7 410.2,336.1 411.4,322.0 412.6,333.9 413.8,322.1 415.0,333.2 416.2,322.6 417.4,333.4 418.6,319.3 419.8,333.5 421.0,319.1 422.2,333.3 423.4,322.5 424.6,333.9 425.8,323.1 427.0,335.2 428.2,323.4 429.4,333.5 430.6,323.3 431.8,333.4 433.0,321.9 434.2,333.2 435.4,319.2 436.6,331.4 437.8,319.5 439.0,329.9 440.2,319.5 441.4,330.5 442.6,321.3 443.8,333.1 445.0,321.3 446.2,336.0 447.4,323.2 448.6,334.7 449.8,323.9 451.0,334.6 452.2,323.0 453.4,334.8 454.6,324.5 455.8,337.6 457.0,324.2 458.2,334.9 459.4,324.4 460.6,334.6 461.8,323.1 463.0,334.0 464.2,322.7 465.4,334.3 466.6,319.6 467.8,334.4 469.0,321.8 470.2,333.2 471.4,321.4 472.6,336.5 473.8,322.4 475.0,337.0 476.2,322.5 477.4,335.2 478.6,322.8 479.8,333.3 481.0,321.9 482.2,333.4 483.4,321.9 484.6,332.7 485.8,322.8 487.0,333.4 488.2,322.7 489.4,333.5 490.6,321.8 491.8,337.4 493.0,322.2 494.2,335.4 495.4,322.5 496.6,334.9 497.8,324.2 499.0,334.6 500.2,323.1 501.4,333.4 502.6,321.3 503.8,336.2 505.0,322.7 506.2,336.1 507.4,323.1 508.6,333.8 509.8,322.3 511.0,333.2 512.2,319.0 513.4,333.2 514.6,322.3 515.8,334.6 517.0,323.4 518.1,334.9 519.3,323.1 520.5,334.2 521.7,323.7 522.9,334.7 524.1,323.7 525.3,333.7 526.5,321.7 527.7,336.3 528.9,321.8 530.1,336.0 531.3,323.3 532.5,335.4 533.7,324.4 534.9,334.8 536.1,323.7 537.3,333.8 538.5,320.6 539.7,336.7 540.9,322.2 542.1,332.2 543.3,321.7 544.5,333.7 545.7,321.7 546.9,336.5 548.1,322.9 549.3,333.8 550.5,318.6 551.7,332.1 552.9,320.2 554.1,331.8 555.3,320.0 556.5,332.6 557.7,322.4 558.9,333.3 560.1,322.3 561.3,333.2 562.5,321.9 563.7,333.2 564.9,319.6 566.1,333.8 567.3,321.4 568.5,333.8 569.7,319.3 570.9,336.6 572.1,319.8 573.3,332.0 574.5,321.4 575.7,332.8 576.9,322.4 578.1,335.7 579.3,320.1 580.5,333.6 581.7,322.0 582.9,333.4 584.1,321.5 585.3,333.9 586.5,320.8 587.7,339.2 588.9,322.2 590.1,337.0 591.3,323.4 592.5,334.7 593.7,323.5 594.9,335.1 596.1,322.0 597.3,333.9 598.5,317.9 599.7,332.4 600.9,322.9 602.1,336.3 603.3,324.3 604.5,334.9 605.7,323.8 606.9,334.0 608.1,322.8 609.3,336.5 610.5,321.1 611.7,334.6 612.9,323.9 614.1,335.5 615.3,325.5 616.5,338.6 617.7,323.8 618.9,335.0 620.1,324.5 621.0,336.5 621.2,320.7 621.3,334.3 621.3,322.7 621.5,336.6 621.6,318.6 621.8,334.2 621.9,320.3 622.1,334.2 622.2,323.3 622.4,334.9 622.5,323.4 622.5,334.1 622.7,321.6 622.8,333.2 623.0,320.2 623.1,333.1 623.3,321.8 623.4,335.5 623.6,320.3 623.7,334.0 623.7,328.6 623.9,328.9 624.0,329.2 624.2,329.5 624.3,329.8 624.5,330.1 624.6,330.3 624.8,330.6 624.9,330.8 624.9,330.9 625.1,331.2 625.2,331.5 625.4,331.7 625.5,333.9 625.7,350.9 625.8,367.9 626.0,385.0 626.1,398.6 626.1,402.0 626.3,419.0 626.4,436.0 626.6,453.1 626.7,470.1 626.9,487.1 627.0,504.2 627.2,521.2 627.3,534.8 627.3,538.2 627.5,555.3 627.6,572.3 627.8,589.3 627.9,606.3 628.1,616.0 628.2,616.0 628.4,616.0 628.5,616.0 628.5,616.0 628.7,604.5 628.8,577.8 629.0,551.1 629.1,524.3 629.3,497.6 629.4,470.9 629.6,444.2 629.7,422.8 629.7,417.5 629.9,390.8 630.0,364.0 630.2,337.3 630.3,310.6 630.5,283.9 630.6,257.2 630.8,230.5 630.9,209.1 630.9,203.7 631.1,177.0 631.2,150.3 631.4,123.6 631.5,117.0 631.7,117.0 631.8,117.0 632.0,117.0 632.1,139.8 632.1,148.1 632.3,189.6 632.4,209.9 632.6,223.1 632.7,236.3 632.9,244.3 633.0,244.9 633.2,245.5 633.3,246.0 633.3,246.1 633.5,246.7 633.6,247.3 633.8,248.0 633.9,248.6 634.1,249.2 634.2,249.8 634.4,250.4 634.5,250.9 634.5,251.0 634.7,251.3 634.8,251.6 635.0,251.9 635.1,252.2 635.3,252.5 635.4,252.8 635.6,253.1 635.7,253.4 635.7,253.4 635.9,253.7 636.0,254.0 636.2,254.3 636.3,254.6 636.5,254.9 636.6,255.2 636.8,255.5 636.9,255.8 636.9,255.8 637.1,256.1 637.2,256.4 637.4,256.7 637.5,257.0 637.7,257.3 637.8,257.6 638.0,257.9 638.1,258.2 638.1,258.2 638.3,258.5 638.4,258.8 638.6,259.1 638.7,259.4 638.9,259.7 639.0,260.0 639.2,260.3 639.3,260.6 639.3,260.6 639.5,260.9 639.6,261.2 639.8,261.5 639.9,261.8 640.1,261.9 640.2,262.5 640.4,261.5 640.5,263.3 640.5,261.5 640.7,264.2 640.8,261.2 641.0,265.0 641.1,261.8 641.3,265.7 641.4,260.9 641.6,266.2 641.7,260.6 641.7,266.4 641.9,260.6 642.0,267.4 642.2,260.4 642.3,268.0 642.5,259.0 642.6,268.7 642.8,259.4 642.9,269.2 642.9,259.9 643.1,271.2 643.2,258.2 643.4,271.6 643.5,261.0 643.7,271.8 643.8,259.7 644.0,270.9 644.1,260.5 644.1,272.6 644.3,260.9 644.4,274.1 644.6,262.1 644.7,275.3 644.9,260.9 645.0,272.6 645.2,258.0 645.3,272.0 645.3,259.1 645.5,271.6 645.6,259.9 645.8,271.7 645.9,259.7 646.1,271.1 646.2,260.9 646.4,271.8 646.5,259.8 646.5,272.9 646.7,262.3 646.8,272.4 647.0,260.4 647.1,272.1 647.3,257.9 647.4,271.4 647.6,260.7 647.7,271.0 647.7,258.3 647.9,275.3 648.0,262.8 648.2,276.7 648.3,263.2 648.5,276.1 648.6,262.9 648.8,277.4 648.9,263.1 648.9,278.1 649.1,263.2 649.2,275.0 649.4,262.4 649.5,273.6 649.7,263.0 649.8,274.6 650.0,262.2 650.1,275.8 650.1,265.4 650.3,276.8 651.3,265.2 652.5,277.6 653.7,264.7 654.9,275.4 656.1,262.3 657.3,273.8 658.5,263.0 659.7,273.3 660.9,262.6 662.1,274.3 663.3,263.3 664.5,274.9 665.7,263.1 666.9,278.3 668.1,263.1 669.3,275.4 670.5,264.0 671.7,275.4 672.9,264.3 674.1,278.6 675.3,262.5 676.5,277.1 677.7,262.6 678.9,274.9 680.1,262.2 681.3,274.3 682.5,263.0 683.7,274.7 684.9,264.5 686.1,276.5 687.3,264.8 688.4,277.7 689.6,263.2 690.8,276.7 692.0,264.9 693.2,276.9 694.4,265.8 695.6,278.2 696.8,265.8 698.0,277.7 699.2,266.5 700.4,279.4 701.6,266.2 702.8,277.9 704.0,265.8 705.2,277.1 706.4,263.8 707.6,276.9 708.8,265.8 710.0,277.4 711.2,262.9 712.4,273.7 713.6,261.9 714.8,271.1 716.0,256.7 717.2,267.7 718.4,253.8 719.6,267.4 720.8,256.1 722.0,271.9 723.2,263.0 724.4,277.5 725.6,263.8 726.8,275.3 728.0,263.6 729.2,275.0 730.4,264.1 731.6,277.3 732.8,264.1 734.0,275.1 735.2,264.0 736.4,275.0 737.6,265.2 738.8,278.1 740.0,266.4 741.2,277.9 742.4,263.1 743.6,277.7 744.8,266.2 746.0,276.8 747.2,265.8 748.4,276.4 749.6,260.1 750.8,275.1 752.0,259.9 753.2,274.7 754.4,260.8 755.6,275.3 756.8,264.0 758.0,276.1 759.2,261.3 760.4,274.5 761.6,265.3 762.8,279.7 764.0,266.9 765.2,278.4 766.4,267.6 767.6,278.2 768.8,267.8 770.0,278.3 771.2,266.9 772.4,278.8 773.6,267.0 774.8,277.6 776.0,266.2 777.2,277.0 778.4,265.6 779.6,279.2 780.8,266.8 782.0,278.8 783.2,266.5 784.4,279.9 785.6,264.3 786.8,276.8 788.0,264.1 789.2,276.8 790.4,266.5 791.6,276.5 792.8,265.2 794.0,276.9 795.2,262.6 796.4,275.8 797.6,264.6 798.8,275.3 800.0,264.5 801.2,274.1 802.4,263.0 803.6,273.6 804.8,262.1 806.0,273.1 807.2,262.8 808.4,275.4 809.6,264.5 810.8,276.7 812.0,264.5 813.2,277.2 814.4,265.9 815.6,278.9 816.8,265.8 818.0,276.2 819.2,264.6 820.4,275.9 821.6,261.8 822.8,275.4 824.0,262.0 825.2,276.3 826.4,264.1 827.6,276.3 828.8,261.8 830.0,275.5 831.2,264.1 832.4,274.4 833.6,264.1 834.8,275.6 836.0,265.2 837.2,280.0 838.4,261.1 839.6,275.7 840.8,262.8 842.0,274.7 843.2,262.0 844.4,274.9 845.6,263.9 846.8,274.8 848.0,264.3 849.2,274.9 850.4,264.2 851.6,276.6 852.8,263.1 854.0,277.2 855.2,263.3 856.4,276.1 857.6,263.7 858.7,277.3 859.9,263.6 861.1,275.5 862.3,264.3 863.5,277.1 864.7,262.8 865.9,275.5 867.1,264.4 868.3,275.5 869.5,264.2 870.7,278.7 871.9,261.9 873.1,275.2 874.3,261.4 875.5,273.5 876.7,262.6 877.9,273.8 879.1,262.7 880.3,277.2 881.5,263.4 882.7,275.2 883.9,265.2 885.1,276.7 886.3,265.1 887.5,275.2 888.7,264.2 889.9,274.7 891.1,261.8 892.3,276.6 893.5,264.2 894.7,276.4 895.9,266.2 897.1,277.9 898.3,267.2 899.5,277.1 900.7,265.3 901.9,277.3 903.1,263.7 904.3,274.5 905.5,263.9 906.7,275.0 907.9,264.4 909.1,274.7 910.3,263.7 911.5,276.9 912.7,264.3 913.9,275.3 915.1,264.7 916.3,280.1 917.5,265.3 918.7,276.6 919.9,266.6 921.1,276.9 922.3,263.2 923.5,276.1 924.7,264.8 925.9,277.0 927.1,263.8 928.3,278.4 929.5,261.5 930.7,274.4 931.9,262.8 933.1,280.1 934.3,265.5 935.5,277.0 936.7,265.0 937.9,277.4 939.1,265.2 940.3,276.7 941.5,261.9 942.7,279.1 943.9,264.2" fill="none" stroke="#ff0000" stroke-width="6.0" stroke-linejoin="round" stroke-linecap="round"/>
<polyline points="90.0,364.9 90.1,365.0 90.3,343.0 90.4,309.8 90.6,276.7 90.7,243.6 90.9,210.5 91.0,177.4 91.2,144.3 91.3,111.2 91.5,100.0 91.6,100.0 91.8,100.0 91.9,100.0 92.1,100.0 92.2,100.0 92.4,100.0 92.5,100.0 92.7,100.0 92.8,101.4 93.0,105.8 93.1,110.2 93.3,114.6 93.4,119.1 93.6,123.5 93.7,127.9 93.9,132.3 94.0,136.7 94.2,141.1 94.3,145.5 94.5,149.9 94.6,150.8 94.8,151.5 94.9,152.3 95.1,153.1 95.2,153.9 95.4,154.7 95.5,155.4 95.7,156.2 95.8,157.0 96.0,157.8 96.1,158.6 96.3,159.3 96.4,160.1 96.6,160.9 96.7,161.7 96.9,162.5 97.0,163.2 97.2,163.7 97.3,164.3 97.5,164.9 97.6,165.4 97.8,166.0 97.9,166.5 98.1,167.4 98.2,167.2 98.4,169.5 98.5,167.7 98.7,171.6 98.8,168.7 99.0,173.4 99.1,167.1 99.3,174.0 99.4,167.1 99.6,176.9 99.7,165.9 99.9,178.4 100.0,165.5 100.2,178.3 100.3,167.3 100.5,184.4 100.6,168.4 100.8,185.6 100.9,170.3 101.1,185.5 101.2,170.4 101.4,185.7 101.5,172.1 101.7,189.4 101.8,173.7 102.0,188.9 102.1,172.9 102.3,187.9 102.4,172.1 102.6,188.2 102.7,173.2 102.9,189.3 103.0,174.4 103.2,191.3 103.3,171.3 103.5,189.5 103.6,175.8 103.8,190.7 103.9,177.7 104.1,191.9 104.2,178.0 104.4,193.4 104.5,177.2 104.7,193.2 104.8,177.3 105.0,193.6 105.1,176.3 105.3,195.1 105.4,179.3 105.6,196.6 105.7,180.1 105.9,197.4 106.8,182.4 108.0,197.4 109.2,183.5 110.4,200.5 111.6,183.2 112.8,205.6 114.0,183.9 115.2,205.9 116.4,186.3 117.6,203.8 118.8,183.5 120.0,198.4 121.2,182.7 122.4,197.8 123.6,181.8 124.8,195.8 126.0,181.2 127.2,194.2 128.4,180.6 129.6,195.3 130.8,181.9 132.0,197.5 133.2,182.0 134.4,197.5 135.6,181.9 136.8,196.2 138.0,179.1 139.2,195.6 140.4,181.6 141.6,197.2 142.8,182.7 144.0,203.0 145.2,184.3 146.4,198.8 147.6,184.2 148.8,197.9 150.0,183.7 151.2,198.0 152.4,183.2 153.6,199.4 154.8,183.0 156.0,196.8 157.2,183.1 158.4,199.4 159.6,183.3 160.8,198.1 162.0,182.0 163.2,197.9 164.4,181.4 165.6,199.5 166.8,180.4 168.0,197.1 169.2,181.5 170.4,199.6 171.6,182.2 172.8,201.6 174.0,181.7 175.2,197.9 176.3,184.1 177.5,199.5 178.7,183.0 179.9,197.0 181.1,179.9 182.3,197.8 183.5,182.2 184.7,200.0 185.9,179.4 187.1,197.5 188.3,179.8 189.5,200.7 190.7,182.1 191.9,197.1 193.1,182.1 194.3,198.3 195.5,183.9 196.7,200.5 197.9,180.5 199.1,202.1 200.3,183.2 201.5,198.1 202.7,182.5 203.9,197.2 205.1,181.5 206.3,195.8 207.5,181.5 208.7,197.2 209.9,181.1 211.1,199.9 212.3,183.5 213.5,197.2 214.7,180.0 215.9,197.1 217.1,183.6 218.3,198.7 219.5,183.8 220.7,199.7 221.9,180.6 223.1,201.9 224.3,180.8 225.5,198.4 226.7,183.8 227.9,198.8 229.1,182.5 230.3,201.3 231.5,184.9 232.7,200.4 233.9,183.9 235.1,199.0 236.3,181.2 237.5,196.6 238.7,182.4 239.9,197.8 241.1,182.9 242.3,197.9 243.5,181.0 244.7,198.0 245.9,183.8 247.1,198.2 248.3,183.8 249.5,197.5 250.7,184.7 251.9,199.5 253.1,184.2 254.3,200.1 255.5,185.2 256.7,201.8 257.9,185.4 259.1,199.5 260.3,184.8 261.5,199.7 262.7,184.8 263.9,199.6 265.1,184.8 266.3,198.8 267.5,183.8 268.7,197.4 269.9,183.4 271.1,197.9 272.3,184.2 273.5,198.3 274.7,183.7 275.9,197.3 277.1,181.0 278.3,196.7 279.5,179.1 280.7,197.6 281.9,182.7 283.1,198.2 284.3,183.7 285.5,199.0 286.7,184.0 287.9,199.6 289.1,185.3 290.3,200.1 291.5,185.5 292.7,202.1 293.9,186.5 295.1,202.0 296.3,182.6 297.5,199.0 298.7,181.4 299.9,196.1 301.1,179.0 302.3,200.1 303.5,179.8 304.7,199.1 305.9,181.7 307.1,202.0 308.3,182.8 309.5,197.7 310.7,182.3 311.9,197.1 313.1,182.8 314.3,198.0 315.5,184.3 316.7,199.0 317.9,184.1 319.1,202.0 320.3,183.6 321.5,198.5 322.7,184.4 323.9,204.3 325.1,185.2 326.3,198.8 327.5,184.3 328.7,199.3 329.9,183.0 331.1,198.3 332.3,182.1 333.5,197.1 334.7,181.7 335.9,198.6 337.1,178.5 338.3,196.1 339.5,179.4 340.7,194.4 341.9,180.2 343.1,196.4 344.3,182.2 345.5,197.0 346.6,183.7 347.8,198.3 349.0,184.6 350.2,199.4 351.4,182.7 352.6,197.9 353.8,183.7 354.2,198.8 354.3,182.6 354.5,196.6 354.6,179.1 354.8,197.1 354.9,183.0 355.0,197.7 355.1,182.8 355.2,197.6 355.4,181.6 355.5,200.3 355.7,183.5 355.8,199.3 356.0,183.9 356.1,199.2 356.2,184.9 356.3,200.5 356.4,184.6 356.6,201.7 356.7,185.6 356.9,211.8 357.0,303.4 357.2,324.6 357.3,345.9 357.4,363.0 357.5,367.2 357.6,388.5 357.8,409.8 357.9,431.1 358.1,441.9 358.2,441.7 358.4,441.5 358.5,441.3 358.6,441.1 358.7,441.1 358.8,440.9 359.0,440.7 359.1,440.5 359.3,440.3 359.4,440.1 359.6,436.5 359.7,429.3 359.8,423.6 359.9,422.1 360.0,414.9 360.2,407.8 360.3,400.6 360.5,393.4 360.6,386.2 360.8,379.0 360.9,371.8 361.0,366.0 361.1,364.6 361.2,357.4 361.4,350.2 361.5,344.0 361.7,344.1 361.8,344.3 362.0,344.4 362.1,344.3 362.2,345.2 362.3,344.2 362.4,345.8 362.6,342.8 362.7,346.6 362.9,341.9 363.0,347.7 363.2,342.1 363.3,348.5 363.4,342.2 363.5,348.4 363.6,341.4 363.8,350.0 363.9,341.4 364.1,353.9 364.2,338.6 364.4,354.2 364.5,341.8 364.6,352.1 364.7,340.2 364.8,353.3 365.8,339.6 367.0,354.3 368.2,341.0 369.4,355.4 370.6,338.9 371.8,358.9 373.0,340.3 374.2,357.1 375.4,341.2 376.6,358.5 377.8,342.2 379.0,356.7 380.2,338.9 381.4,356.0 382.6,339.6 383.8,355.7 385.0,343.2 386.2,356.1 387.4,341.3 388.6,356.8 389.8,337.6 391.0,355.9 392.2,339.1 393.4,355.7 394.6,340.4 395.8,357.6 397.0,340.5 398.2,354.5 399.4,341.0 400.6,355.0 401.8,339.7 403.0,354.5 404.2,341.3 405.4,355.7 406.6,341.6 407.8,356.1 409.0,340.6 410.2,354.1 411.4,339.5 412.6,353.4 413.8,337.6 415.0,356.2 416.2,339.9 417.4,355.0 418.6,340.1 419.8,355.0 421.0,341.1 422.2,355.1 423.4,341.3 424.6,355.3 425.8,340.4 427.0,355.1 428.2,340.9 429.4,354.9 430.6,342.2 431.8,355.4 433.0,341.3 434.2,356.9 435.4,338.7 436.6,353.5 437.8,340.3 439.0,354.2 440.2,342.1 441.4,355.8 442.6,341.8 443.8,357.1 445.0,339.8 446.2,355.0 447.4,340.6 448.6,354.6 449.8,338.5 451.0,353.5 452.2,338.7 453.4,354.8 454.6,339.2 455.8,355.4 457.0,341.9 458.2,355.2 459.4,340.7 460.6,354.2 461.8,339.5 463.0,353.3 464.2,339.0 465.4,354.3 466.6,339.7 467.8,353.9 469.0,340.0 470.2,358.4 471.4,340.1 472.6,359.5 473.8,338.4 475.0,354.6 476.2,341.9 477.4,355.4 478.6,338.8 479.8,358.3 481.0,341.1 482.2,355.9 483.4,342.0 484.6,359.6 485.8,341.2 487.0,355.5 488.2,342.2 489.4,357.4 490.6,340.5 491.8,358.3 493.0,342.3 494.2,356.6 495.4,338.6 496.6,355.9 497.8,336.4 499.0,354.3 500.2,339.1 501.4,353.0 502.6,340.3 503.8,354.5 505.0,341.2 506.2,355.1 507.4,343.3 508.6,357.6 509.8,337.6 511.0,358.1 512.2,338.1 513.4,355.5 514.6,341.1 515.8,357.0 517.0,341.1 518.1,355.2 519.3,342.0 520.5,357.2 521.7,341.3 522.9,356.5 524.1,336.9 525.3,357.9 526.5,339.6 527.7,357.6 528.9,343.4 530.1,357.3 531.3,341.4 532.5,358.8 533.7,342.0 534.9,356.8 536.1,341.8 537.3,359.5 538.5,342.9 539.7,358.9 540.9,342.9 542.1,357.8 543.3,341.2 544.5,357.7 545.7,341.4 546.9,354.4 548.1,336.9 549.3,354.1 550.5,336.6 551.7,356.0 552.9,338.9 554.1,353.3 555.3,337.5 556.5,355.9 557.7,338.0 558.9,353.7 560.1,340.9 561.3,356.2 562.5,341.0 563.7,358.0 564.9,343.2 566.1,358.3 567.3,342.4 568.5,356.5 569.7,343.2 570.9,356.2 572.1,339.8 573.3,354.3 574.5,341.2 575.7,354.5 576.9,339.5 578.1,354.4 579.3,339.4 580.5,354.0 581.7,336.3 582.9,352.9 584.1,338.4 585.3,352.5 586.5,338.1 587.7,353.4 588.9,339.3 590.1,353.2 591.3,340.1 592.5,355.2 593.7,336.3 594.9,354.3 596.1,340.6 597.3,356.0 598.5,339.1 599.7,356.3 600.9,342.2 602.1,356.1 603.3,342.8 604.5,358.7 605.7,341.9 606.9,355.1 608.1,338.0 609.3,355.6 610.5,339.2 611.7,355.0 612.9,341.6 614.1,357.2 615.3,343.4 616.5,356.2 617.7,341.5 618.9,357.1 620.1,341.1 621.0,354.5 621.2,339.4 621.3,355.0 621.3,339.3 621.5,354.5 621.6,338.1 621.8,354.4 621.9,341.1 622.1,354.5 622.2,341.1 622.4,355.3 622.5,342.0 622.5,356.3 622.7,342.8 622.8,356.5 623.0,341.5 623.1,357.3 623.3,342.2 623.4,357.5 623.6,342.1 623.7,273.1 623.7,263.6 623.9,253.6 624.0,243.6 624.2,233.6 624.3,223.5 624.5,218.0 624.6,218.0 624.8,218.0 624.9,218.0 624.9,218.0 625.1,218.0 625.2,218.4 625.4,221.9 625.5,225.4 625.7,228.9 625.8,232.4 626.0,235.9 626.1,238.7 626.1,239.4 626.3,242.9 626.4,246.4 626.6,249.9 626.7,253.4 626.9,256.9 627.0,260.1 627.2,262.0 627.3,262.1 627.3,263.6 627.5,263.6 627.6,267.1 627.8,265.5 627.9,270.1 628.1,267.2 628.2,272.5 628.4,267.6 628.5,275.6 628.5,270.2 628.7,278.3 628.8,273.0 629.0,282.3 629.1,274.4 629.3,282.5 629.4,269.8 629.6,284.2 629.7,273.8 629.7,284.3 629.9,273.1 630.0,285.8 630.2,273.5 630.3,286.4 630.5,273.6 630.6,285.4 630.8,272.4 630.9,289.3 630.9,272.5 631.1,286.4 631.2,272.3 631.4,287.8 631.5,272.8 631.7,284.5 631.8,271.9 632.0,284.7 632.1,272.0 632.1,284.7 632.3,269.1 632.4,285.7 632.6,270.4 632.7,285.7 632.9,270.3 633.0,285.8 633.2,271.0 633.3,289.2 633.3,273.1 633.5,289.8 633.6,272.0 633.8,287.1 633.9,271.6 634.1,286.2 634.2,272.9 634.4,285.6 634.5,270.7 635.7,286.4 636.9,273.6 638.1,287.0 639.3,274.6 640.5,287.8 641.7,275.4 642.9,288.4 644.1,274.6 645.3,288.4 646.5,275.7 647.7,288.7 648.9,275.8 650.1,289.1 651.3,275.2 652.5,290.9 653.7,272.9 654.9,287.9 656.1,274.7 657.3,287.8 658.5,273.1 659.7,286.6 660.9,271.3 662.1,287.0 663.3,270.8 664.5,286.7 665.7,273.9 666.9,287.9 668.1,270.7 669.3,288.5 670.5,274.9 671.7,289.6 672.9,276.8 674.1,289.3 675.3,275.8 676.5,290.7 677.7,274.6 678.9,289.9 680.1,274.5 681.3,289.1 682.5,275.5 683.7,288.5 684.9,276.6 686.1,294.7 687.3,274.8 688.4,296.7 689.6,277.3 690.8,296.1 692.0,278.3 693.2,290.0 694.4,276.9 695.6,289.1 696.8,274.8 698.0,287.6 699.2,274.5 700.4,292.3 701.6,275.1 702.8,287.8 704.0,274.6 705.2,288.4 706.4,276.7 707.6,290.3 708.8,275.9 710.0,292.0 711.2,271.3 712.4,290.0 713.6,269.4 714.8,288.6 716.0,275.1 717.2,288.8 718.4,276.1 719.6,288.8 720.8,275.7 722.0,290.4 723.2,275.7 724.4,289.1 725.6,276.3 726.8,291.2 728.0,276.5 729.2,292.0 730.4,272.8 731.6,290.9 732.8,274.4 734.0,287.5 735.2,275.2 736.4,288.2 737.6,275.1 738.8,293.0 740.0,275.5 741.2,288.0 742.4,275.4 743.6,288.7 744.8,275.8 746.0,289.1 747.2,276.1 748.4,288.1 749.6,274.9 750.8,287.7 752.0,275.2 753.2,288.3 754.4,275.3 755.6,288.0 756.8,275.0 758.0,288.5 759.2,273.9 760.4,286.4 761.6,274.8 762.8,287.7 764.0,275.4 765.2,290.3 766.4,275.2 767.6,288.0 768.8,275.0 770.0,287.9 771.2,273.9 772.4,287.8 773.6,274.8 774.8,291.5 776.0,274.4 777.2,286.9 778.4,275.0 779.6,287.8 780.8,271.1 782.0,288.2 783.2,274.6 784.4,290.5 785.6,274.2 786.8,288.3 788.0,274.8 789.2,291.7 790.4,276.4 791.6,291.4 792.8,276.2 794.0,290.7 795.2,275.0 796.4,287.5 797.6,275.5 798.8,288.0 800.0,275.5 801.2,293.3 802.4,276.6 803.6,291.9 804.8,276.0 806.0,290.5 807.2,275.2 808.4,287.4 809.6,274.5 810.8,289.9 812.0,274.9 813.2,289.4 814.4,273.7 815.6,289.2 816.8,275.3 818.0,287.7 819.2,275.8 820.4,291.3 821.6,277.6 822.8,291.8 824.0,277.9 825.2,288.7 826.4,274.9 827.6,287.8 828.8,273.9 830.0,286.4 831.2,273.7 832.4,287.4 833.6,275.1 834.8,288.6 836.0,273.3 837.2,288.0 838.4,274.8 839.6,287.5 840.8,273.4 842.0,287.3 843.2,273.7 844.4,287.7 845.6,270.3 846.8,288.3 848.0,275.5 849.2,288.3 850.4,271.0 851.6,293.3 852.8,273.2 854.0,288.6 855.2,276.0 856.4,288.9 857.6,275.1 858.7,287.6 859.9,272.8 861.1,290.2 862.3,274.6 863.5,287.6 864.7,272.7 865.9,288.4 867.1,274.8 868.3,289.4 869.5,274.3 870.7,290.3 871.9,275.4 873.1,287.4 874.3,271.5 875.5,286.5 876.7,274.9 877.9,288.0 879.1,275.6 880.3,288.7 881.5,276.0 882.7,287.9 883.9,273.7 885.1,288.8 886.3,273.8 887.5,288.6 888.7,276.1 889.9,294.0 891.1,278.1 892.3,291.5 893.5,276.2 894.7,293.9 895.9,273.9 897.1,291.3 898.3,277.4 899.5,289.3 900.7,276.6 901.9,289.6 903.1,275.6 904.3,291.3 905.5,275.8 906.7,288.3 907.9,274.9 909.1,287.5 910.3,271.7 911.5,286.5 912.7,273.1 913.9,286.2 915.1,273.9 916.3,287.2 917.5,274.9 918.7,289.4 919.9,272.8 921.1,289.7 922.3,274.9 923.5,292.0 924.7,275.8 925.9,289.8 927.1,274.8 928.3,290.7 929.5,276.8 930.7,290.6 931.9,276.6 933.1,292.7 934.3,276.7 935.5,288.8 936.7,274.1 937.9,288.1 939.1,275.4 940.3,289.5 941.5,273.6 942.7,292.2 943.9,277.4" fill="none" stroke="#00ff00" stroke-width="6.0" stroke-linejoin="round" stroke-linecap="round"/>
<polyline points="90.0,364.9 90.1,365.0 90.3,365.0 90.4,365.0 90.6,365.0 90.7,327.3 90.9,289.6 91.0,251.8 91.2,214.1 91.3,176.3 91.5,138.6 91.6,100.8 91.8,88.0 91.9,88.0 92.1,88.0 92.2,88.0 92.4,88.0 92.5,96.9 92.7,105.9 92.8,114.9 93.0,123.9 93.1,132.9 93.3,141.9 93.4,150.2 93.6,162.9 93.7,156.6 93.9,169.8 94.0,154.5 94.2,177.5 94.3,155.2 94.5,179.0 94.6,157.4 94.8,180.9 94.9,161.6 95.1,187.3 95.2,162.5 95.4,188.0 95.5,161.5 95.7,185.4 95.8,161.9 96.0,187.2 96.1,162.5 96.3,183.5 96.4,161.6 96.6,185.4 96.7,161.9 96.9,185.4 97.0,160.1 97.2,182.5 97.3,158.8 97.5,181.5 97.6,159.0 97.8,184.2 97.9,161.6 98.1,184.9 98.2,160.0 98.4,184.6 98.5,162.3 98.7,185.7 98.8,163.8 99.0,185.4 99.1,165.4 99.3,187.4 99.4,165.9 99.6,187.9 99.7,165.9 99.9,187.4 100.0,166.4 100.2,187.0 100.3,167.8 100.5,188.1 100.6,167.8 100.8,190.0 100.9,168.1 101.1,191.6 101.2,169.1 101.4,190.6 101.5,169.6 101.7,190.1 101.8,170.4 102.0,191.4 102.1,173.1 102.3,191.8 102.4,174.3 102.6,191.4 102.7,173.0 102.9,192.9 103.0,175.4 103.2,192.5 103.3,175.1 103.5,192.5 103.6,174.3 103.8,196.1 103.9,178.5 104.1,194.8 104.2,179.5 104.4,194.8 104.5,178.9 104.7,194.1 104.8,177.6 105.0,194.5 105.1,175.0 105.3,193.8 105.4,179.4 105.6,195.9 105.7,178.8 105.9,196.1 106.8,181.0 108.0,199.3 109.2,181.2 110.4,197.1 111.6,181.5 112.8,199.3 114.0,180.5 115.2,200.2 116.4,180.8 117.6,198.9 118.8,181.5 120.0,198.0 121.2,181.5 122.4,198.0 123.6,181.4 124.8,199.9 126.0,181.9 127.2,198.6 128.4,182.1 129.6,198.7 130.8,179.7 132.0,195.6 133.2,178.0 134.4,197.6 135.6,181.0 136.8,198.1 138.0,181.9 139.2,196.3 140.4,178.8 141.6,195.7 142.8,179.8 144.0,197.5 145.2,180.1 146.4,196.2 147.6,180.2 148.8,197.1 150.0,178.8 151.2,197.1 152.4,179.8 153.6,197.2 154.8,180.0 156.0,196.0 157.2,178.1 158.4,198.4 159.6,180.7 160.8,197.7 162.0,182.2 163.2,197.6 164.4,182.7 165.6,198.6 166.8,182.9 168.0,201.6 169.2,180.7 170.4,200.0 171.6,179.7 172.8,198.4 174.0,181.1 175.2,198.2 176.3,180.8 177.5,199.0 178.7,180.3 179.9,196.5 181.1,181.2 182.3,198.9 183.5,181.5 184.7,200.0 185.9,181.4 187.1,200.0 188.3,177.4 189.5,195.5 190.7,180.6 191.9,196.5 193.1,180.1 194.3,200.6 195.5,182.2 196.7,198.4 197.9,181.1 199.1,197.7 200.3,180.1 201.5,198.7 202.7,180.7 203.9,196.5 205.1,180.2 206.3,196.4 207.5,180.5 208.7,199.8 209.9,181.4 211.1,200.6 212.3,179.5 213.5,199.9 214.7,181.3 215.9,196.7 217.1,179.9 218.3,195.4 219.5,180.2 220.7,199.9 221.9,180.8 223.1,198.7 224.3,180.5 225.5,196.2 226.7,178.7 227.9,196.2 229.1,181.8 230.3,198.0 231.5,181.7 232.7,197.2 233.9,180.6 235.1,195.7 236.3,179.7 237.5,196.8 238.7,178.8 239.9,195.9 241.1,181.2 242.3,199.1 243.5,181.3 244.7,200.1 245.9,182.1 247.1,197.7 248.3,181.1 249.5,196.1 250.7,181.0 251.9,198.7 253.1,180.6 254.3,195.8 255.5,178.2 256.7,197.6 257.9,182.2 259.1,197.5 260.3,183.2 261.5,198.7 262.7,179.2 263.9,196.8 265.1,181.0 266.3,199.9 267.5,180.4 268.7,197.3 269.9,181.7 271.1,197.4 272.3,181.7 273.5,198.6 274.7,178.5 275.9,197.7 277.1,182.2 278.3,197.9 279.5,181.6 280.7,201.2 281.9,181.8 283.1,198.2 284.3,179.1 285.5,195.2 286.7,180.6 287.9,195.5 289.1,179.3 290.3,197.2 291.5,181.5 292.7,197.3 293.9,180.1 295.1,197.6 296.3,179.6 297.5,198.6 298.7,179.7 299.9,198.1 301.1,181.1 302.3,197.8 303.5,180.1 304.7,197.8 305.9,181.3 307.1,196.5 308.3,181.4 309.5,197.6 310.7,181.7 311.9,198.0 313.1,179.1 314.3,197.1 315.5,180.8 316.7,196.7 317.9,178.0 319.1,196.5 320.3,182.0 321.5,197.2 322.7,180.0 323.9,197.0 325.1,180.9 326.3,197.4 327.5,179.8 328.7,200.2 329.9,178.7 331.1,197.9 332.3,179.1 333.5,197.5 334.7,182.0 335.9,196.5 337.1,180.2 338.3,198.2 339.5,176.9 340.7,200.0 341.9,180.9 343.1,196.8 344.3,177.8 345.5,197.7 346.6,181.6 347.8,197.2 349.0,181.3 350.2,197.6 351.4,183.1 352.6,198.4 353.8,182.3 354.2,198.3 354.3,179.8 354.5,200.2 354.6,181.3 354.8,198.6 354.9,182.3 355.0,197.5 355.1,182.3 355.2,197.1 355.4,180.6 355.5,195.8 355.7,180.4 355.8,197.3 356.0,181.7 356.1,196.8 356.2,178.6 356.3,194.7 356.4,178.5 356.6,195.7 356.7,179.6 356.9,191.2 357.0,209.2 357.2,267.4 357.3,325.6 357.4,372.2 357.5,383.8 357.6,433.0 357.8,433.0 357.9,433.0 358.1,433.0 358.2,433.0 358.4,433.0 358.5,427.3 358.6,421.7 358.7,420.3 358.8,413.3 359.0,406.3 359.1,399.3 359.3,392.3 359.4,385.3 359.6,378.3 359.7,371.3 359.8,365.7 359.9,364.3 360.0,357.3 360.2,350.3 360.3,343.3 360.5,336.3 360.6,329.3 360.8,322.3 360.9,321.0 361.0,321.0 361.1,321.0 361.2,321.0 361.4,321.0 361.5,321.0 361.7,321.3 361.8,320.5 362.0,322.0 362.1,319.9 362.2,322.6 362.3,319.6 362.4,322.8 362.6,318.7 362.7,323.6 362.9,318.4 363.0,325.2 363.2,317.0 363.3,326.3 363.4,316.4 363.5,325.4 363.6,315.3 363.8,326.7 363.9,316.3 364.1,326.6 364.2,316.1 364.4,327.9 364.5,316.6 364.6,329.6 364.7,316.9 364.8,330.9 365.8,318.1 367.0,331.6 368.2,321.3 369.4,334.6 370.6,322.6 371.8,335.1 373.0,321.1 374.2,334.9 375.4,319.9 376.6,336.4 377.8,322.6 379.0,335.9 380.2,324.2 381.4,339.3 382.6,323.1 383.8,339.8 385.0,324.7 386.2,339.2 387.4,324.3 388.6,338.7 389.8,322.0 391.0,336.0 392.2,323.3 393.4,338.7 394.6,325.7 395.8,340.8 397.0,324.6 398.2,337.0 399.4,322.9 400.6,336.2 401.8,321.6 403.0,335.6 404.2,322.2 405.4,339.0 406.6,322.6 407.8,340.6 409.0,322.7 410.2,337.5 411.4,324.7 412.6,337.1 413.8,322.8 415.0,337.7 416.2,326.0 417.4,338.7 418.6,324.3 419.8,342.1 421.0,325.9 422.2,339.8 423.4,324.5 424.6,337.1 425.8,323.7 427.0,336.5 428.2,325.3 429.4,339.7 430.6,324.8 431.8,338.5 433.0,324.9 434.2,337.3 435.4,325.6 436.6,340.0 437.8,323.9 439.0,337.9 440.2,324.0 441.4,338.8 442.6,323.6 443.8,337.0 445.0,324.7 446.2,337.7 447.4,323.8 448.6,336.3 449.8,324.1 451.0,337.3 452.2,324.6 453.4,338.4 454.6,325.7 455.8,337.2 457.0,324.7 458.2,337.4 459.4,321.1 460.6,335.4 461.8,319.9 463.0,336.0 464.2,323.5 465.4,337.7 466.6,324.0 467.8,337.7 469.0,325.2 470.2,337.9 471.4,322.5 472.6,341.1 473.8,325.5 475.0,337.7 476.2,322.9 477.4,336.5 478.6,324.1 479.8,336.9 481.0,322.7 482.2,336.1 483.4,324.3 484.6,336.0 485.8,324.3 487.0,337.5 488.2,323.6 489.4,336.6 490.6,322.5 491.8,335.5 493.0,323.4 494.2,335.0 495.4,322.0 496.6,337.8 497.8,324.0 499.0,337.2 500.2,325.4 501.4,337.4 502.6,325.4 503.8,337.1 505.0,325.2 506.2,337.3 507.4,323.6 508.6,336.4 509.8,323.8 511.0,337.4 512.2,323.2 513.4,336.6 514.6,323.7 515.8,337.9 517.0,323.6 518.1,337.2 519.3,325.1 520.5,337.3 521.7,324.4 522.9,336.5 524.1,320.7 525.3,335.1 526.5,323.2 527.7,335.3 528.9,323.3 530.1,337.3 531.3,324.3 532.5,337.9 533.7,325.1 534.9,337.4 536.1,325.6 537.3,337.8 538.5,324.1 539.7,338.3 540.9,324.6 542.1,339.4 543.3,322.0 544.5,338.2 545.7,323.3 546.9,338.2 548.1,322.7 549.3,337.3 550.5,323.8 551.7,339.0 552.9,323.9 554.1,338.4 555.3,325.3 556.5,341.5 557.7,325.5 558.9,337.5 560.1,325.5 561.3,337.2 562.5,322.6 563.7,337.5 564.9,323.6 566.1,337.3 567.3,324.3 568.5,337.7 569.7,324.9 570.9,337.5 572.1,324.0 573.3,336.3 574.5,324.1 575.7,337.7 576.9,324.5 578.1,337.8 579.3,324.2 580.5,337.0 581.7,323.3 582.9,336.1 584.1,322.1 585.3,336.7 586.5,323.9 587.7,337.7 588.9,324.3 590.1,337.6 591.3,325.6 592.5,338.1 593.7,324.0 594.9,337.8 596.1,323.7 597.3,338.6 598.5,323.2 599.7,336.0 600.9,322.9 602.1,336.6 603.3,323.9 604.5,337.8 605.7,324.0 606.9,336.9 608.1,324.6 609.3,336.9 610.5,325.1 611.7,337.9 612.9,325.6 614.1,339.2 615.3,324.0 616.5,337.3 617.7,322.3 618.9,335.4 620.1,323.3 621.0,334.3 621.2,322.4 621.3,334.5 621.3,322.8 621.5,335.4 621.6,321.7 621.8,337.2 621.9,323.7 622.1,336.9 622.2,323.5 622.4,336.2 622.5,323.5 622.5,336.0 622.7,323.8 622.8,336.0 623.0,324.1 623.1,337.9 623.3,325.9 623.4,340.7 623.6,325.9 623.7,293.4 623.7,284.6 623.9,279.0 624.0,273.5 624.2,267.9 624.3,262.4 624.5,256.8 624.6,251.3 624.8,245.7 624.9,241.3 624.9,240.2 625.1,234.6 625.2,229.1 625.4,226.0 625.5,226.0 625.7,226.0 625.8,226.0 626.0,226.0 626.1,227.4 626.1,227.9 626.3,230.3 626.4,232.7 626.6,235.1 626.7,237.5 626.9,239.9 627.0,242.2 627.2,244.9 627.3,245.6 627.3,247.4 627.5,248.0 627.6,251.9 627.8,249.1 627.9,254.6 628.1,250.4 628.2,257.4 628.4,251.5 628.5,259.1 628.5,252.7 628.7,261.3 628.8,254.4 629.0,264.7 629.1,256.7 629.3,267.0 629.4,257.6 629.6,269.7 629.7,256.3 629.7,269.7 629.9,256.0 630.0,269.0 630.2,255.9 630.3,269.8 630.5,253.0 630.6,272.4 630.8,254.9 630.9,270.7 630.9,255.8 631.1,269.0 631.2,255.1 631.4,269.8 631.5,253.2 631.7,270.4 631.8,255.2 632.0,272.9 632.1,257.1 632.1,271.4 632.3,258.0 632.4,272.1 632.6,256.7 632.7,274.0 632.9,259.3 633.0,274.5 633.2,259.1 633.3,272.2 633.3,258.2 633.5,275.6 633.6,258.4 633.8,274.5 633.9,261.1 634.1,274.5 634.2,257.7 634.4,276.3 634.5,257.8 634.5,273.7 634.7,259.3 634.8,276.8 635.0,259.8 635.1,273.1 635.3,259.0 635.4,274.3 635.6,259.6 635.7,276.1 635.7,258.7 635.9,274.0 636.0,258.9 636.2,275.0 636.3,257.7 636.5,274.6 636.6,259.7 636.8,275.2 636.9,261.0 636.9,276.6 638.1,263.7 639.3,282.1 640.5,267.5 641.7,281.2 642.9,265.3 644.1,279.2 645.3,263.7 646.5,278.0 647.7,263.4 648.9,279.7 650.1,263.6 651.3,278.8 652.5,265.5 653.7,280.4 654.9,265.6 656.1,283.1 657.3,265.5 658.5,279.0 659.7,263.3 660.9,278.3 662.1,263.8 663.3,279.4 664.5,264.3 665.7,281.7 666.9,264.1 668.1,279.0 669.3,262.0 670.5,280.6 671.7,263.1 672.9,278.0 674.1,265.1 675.3,280.3 676.5,264.6 677.7,279.2 678.9,263.2 680.1,281.8 681.3,264.6 682.5,280.2 683.7,263.9 684.9,279.4 686.1,262.7 687.3,279.5 688.4,262.5 689.6,281.5 690.8,264.8 692.0,280.3 693.2,264.7 694.4,279.0 695.6,263.2 696.8,282.2 698.0,265.0 699.2,280.6 700.4,263.8 701.6,278.4 702.8,261.9 704.0,279.3 705.2,263.7 706.4,279.7 707.6,263.8 708.8,279.7 710.0,266.3 711.2,279.6 712.4,266.0 713.6,281.3 714.8,266.4 716.0,281.4 717.2,265.2 718.4,281.0 719.6,264.0 720.8,279.9 722.0,264.7 723.2,277.9 724.4,262.5 725.6,280.0 726.8,263.1 728.0,277.5 729.2,264.1 730.4,279.4 731.6,263.5 732.8,277.9 734.0,263.6 735.2,278.5 736.4,263.3 737.6,280.1 738.8,264.5 740.0,278.9 741.2,262.2 742.4,278.3 743.6,263.9 744.8,278.5 746.0,263.6 747.2,278.5 748.4,260.7 749.6,277.7 750.8,261.8 752.0,280.3 753.2,264.2 754.4,279.6 755.6,265.8 756.8,280.6 758.0,261.8 759.2,280.5 760.4,263.2 761.6,279.0 762.8,261.0 764.0,278.9 765.2,264.2 766.4,280.3 767.6,261.6 768.8,279.9 770.0,260.6 771.2,278.5 772.4,263.6 773.6,279.1 774.8,263.8 776.0,277.5 777.2,263.2 778.4,277.5 779.6,263.2 780.8,278.2 782.0,263.3 783.2,280.2 784.4,267.3 785.6,281.2 786.8,266.5 788.0,280.7 789.2,264.4 790.4,278.8 791.6,264.1 792.8,277.1 794.0,261.6 795.2,276.8 796.4,262.0 797.6,277.5 798.8,264.0 800.0,279.1 801.2,263.5 802.4,277.7 803.6,263.4 804.8,279.2 806.0,263.7 807.2,278.8 808.4,264.2 809.6,278.7 810.8,264.6 812.0,279.5 813.2,265.3 814.4,279.5 815.6,266.0 816.8,281.0 818.0,265.7 819.2,283.0 820.4,263.5 821.6,279.7 822.8,264.0 824.0,277.9 825.2,264.0 826.4,278.0 827.6,265.4 828.8,280.5 830.0,265.2 831.2,279.1 832.4,265.5 833.6,279.0 834.8,263.2 836.0,279.0 837.2,262.6 838.4,278.8 839.6,263.0 840.8,278.7 842.0,264.4 843.2,278.9 844.4,265.6 845.6,280.8 846.8,266.4 848.0,280.4 849.2,265.5 850.4,279.2 851.6,262.8 852.8,278.1 854.0,263.9 855.2,279.0 856.4,265.0 857.6,279.3 858.7,264.8 859.9,280.4 861.1,266.3 862.3,281.7 863.5,265.2 864.7,280.9 865.9,264.0 867.1,279.9 868.3,265.2 869.5,278.6 870.7,263.7 871.9,278.8 873.1,264.9 874.3,282.2 875.5,265.6 876.7,283.1 877.9,266.9 879.1,282.8 880.3,265.6 881.5,278.7 882.7,264.4 883.9,278.9 885.1,264.4 886.3,279.1 887.5,264.5 888.7,279.3 889.9,262.9 891.1,278.8 892.3,263.2 893.5,283.1 894.7,265.6 895.9,283.1 897.1,264.5 898.3,281.0 899.5,263.4 900.7,280.7 901.9,265.3 903.1,279.6 904.3,265.0 905.5,280.2 906.7,266.0 907.9,279.8 909.1,264.5 910.3,280.5 911.5,265.9 912.7,282.3 913.9,266.6 915.1,280.5 916.3,264.0 917.5,281.1 918.7,263.8 919.9,278.1 921.1,263.5 922.3,277.1 923.5,261.8 924.7,277.8 925.9,264.2 927.1,278.6 928.3,264.2 929.5,278.1 930.7,262.4 931.9,277.8 933.1,263.1 934.3,278.6 935.5,265.4 936.7,280.1 937.9,265.5 939.1,280.0 940.3,266.5 941.5,279.3 942.7,264.0 943.9,280.9" fill="none" stroke="#a2142f" stroke-width="6.0" stroke-linejoin="round" stroke-linecap="round"/>
<text transform="translate(90.00 684) scale(1.06 1)" text-anchor="middle" font-family="Liberation Serif" font-weight="bold" font-size="30.5">0</text>
<text transform="translate(196.74 684) scale(1.06 1)" text-anchor="middle" font-family="Liberation Serif" font-weight="bold" font-size="30.5">0.2</text>
<text transform="translate(303.48 684) scale(1.06 1)" text-anchor="middle" font-family="Liberation Serif" font-weight="bold" font-size="30.5">0.4</text>
<text transform="translate(410.21 684) scale(1.06 1)" text-anchor="middle" font-family="Liberation Serif" font-weight="bold" font-size="30.5">0.6</text>
<text transform="translate(516.95 684) scale(1.06 1)" text-anchor="middle" font-family="Liberation Serif" font-weight="bold" font-size="30.5">0.8</text>
<text transform="translate(623.69 684) scale(1.06 1)" text-anchor="middle" font-family="Liberation Serif" font-weight="bold" font-size="30.5">1.0</text>
<text transform="translate(730.42 684) scale(1.06 1)" text-anchor="middle" font-family="Liberation Serif" font-weight="bold" font-size="30.5">1.2</text>
<text transform="translate(837.16 684) scale(1.06 1)" text-anchor="middle" font-family="Liberation Serif" font-weight="bold" font-size="30.5">1.4</text>
<text transform="translate(943.90 684) scale(1.06 1)" text-anchor="middle" font-family="Liberation Serif" font-weight="bold" font-size="30.5">1.6</text>
<text transform="translate(78.3 654.90) scale(1.06 1)" text-anchor="end" font-family="Liberation Serif" font-weight="bold" font-size="30.5">-50</text>
<text transform="translate(78.3 443.57) scale(1.06 1)" text-anchor="end" font-family="Liberation Serif" font-weight="bold" font-size="30.5">0</text>
<text transform="translate(78.3 232.53) scale(1.06 1)" text-anchor="end" font-family="Liberation Serif" font-weight="bold" font-size="30.5">50</text>
<text transform="translate(78.3 20.10) scale(1.06 1)" text-anchor="end" font-family="Liberation Serif" font-weight="bold" font-size="30.5">100</text>
<text transform="translate(516.3 719.6) scale(1.06 1)" text-anchor="middle" font-family="Liberation Serif" font-weight="bold" font-size="30">Time (s)</text>
<text transform="translate(21.7 312) scale(1.06 1) rotate(-90)" text-anchor="middle" font-family="Liberation Serif" font-weight="bold" font-size="30">Isd ,Isq (A)</text>
<rect x="637.4" y="12.0" width="304.1" height="186.3" fill="#fff" stroke="#262626" stroke-width="1.3"/>
<path d="M644.2 33.10H723.7" stroke="#000000" stroke-width="5.2"/>
<text transform="translate(729.3 43.80) scale(1.06 1)" font-family="Liberation Serif" font-weight="bold" font-size="30">Ids</text>
<path d="M644.2 69.20H723.7" stroke="#0000ff" stroke-width="5.2"/>
<text transform="translate(729.3 79.90) scale(1.06 1)" font-family="Liberation Serif" font-weight="bold" font-size="30">Iqs-P&amp;O</text>
<path d="M644.2 105.30H723.7" stroke="#ff0000" stroke-width="5.2"/>
<text transform="translate(729.3 116.00) scale(1.06 1)" font-family="Liberation Serif" font-weight="bold" font-size="30">Iqs-Fuzzy</text>
<path d="M644.2 141.40H723.7" stroke="#00ff00" stroke-width="5.2"/>
<text transform="translate(729.3 152.10) scale(1.06 1)" font-family="Liberation Serif" font-weight="bold" font-size="30">Iqs-Fuzzy-GA</text>
<path d="M644.2 177.50H723.7" stroke="#a2142f" stroke-width="5.2"/>
<text transform="translate(729.3 188.20) scale(1.06 1)" font-family="Liberation Serif" font-weight="bold" font-size="30">Iqs-Fuzzy-PSO</text>
</svg>
</body></html>
